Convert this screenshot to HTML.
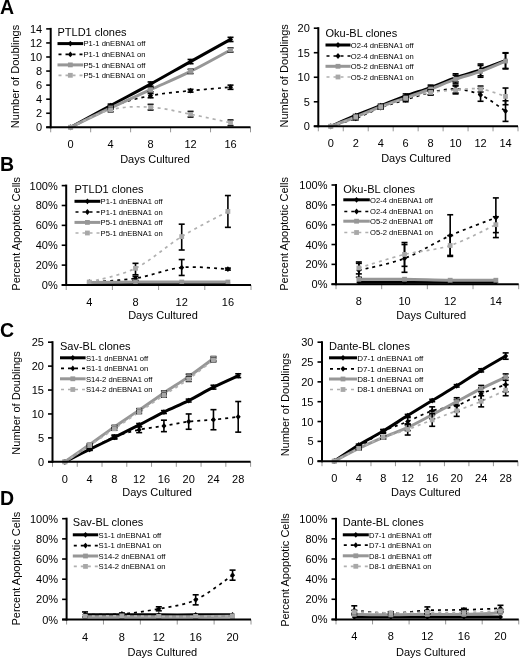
<!DOCTYPE html>
<html><head><meta charset="utf-8"><style>
html,body{margin:0;padding:0;background:#fff;}
svg{display:block;filter:blur(0.3px);}
text{font-family:"Liberation Sans", sans-serif;fill:#000;}
</style></head><body>
<svg width="520" height="658" viewBox="0 0 520 658">
<rect width="520" height="658" fill="#fff"/>
<line x1="50.7" y1="127.3" x2="50.7" y2="132.3" stroke="#8a8a8a" stroke-width="0.9" />
<line x1="90.66" y1="127.3" x2="90.66" y2="132.3" stroke="#8a8a8a" stroke-width="0.9" />
<line x1="130.62" y1="127.3" x2="130.62" y2="132.3" stroke="#8a8a8a" stroke-width="0.9" />
<line x1="170.58" y1="127.3" x2="170.58" y2="132.3" stroke="#8a8a8a" stroke-width="0.9" />
<line x1="210.54" y1="127.3" x2="210.54" y2="132.3" stroke="#8a8a8a" stroke-width="0.9" />
<line x1="250.5" y1="127.3" x2="250.5" y2="132.3" stroke="#8a8a8a" stroke-width="0.9" />
<path d="M70.68 127.3 C77.34 123.67 97.32 112.71 110.64 105.51 C123.96 98.3 137.28 91.39 150.6 84.07 C163.92 76.74 177.24 69.01 190.56 61.57 C203.88 54.13 223.86 43.12 230.52 39.42" fill="none" stroke="#000" stroke-width="3" stroke-linejoin="round"/>
<path d="M70.68 127.3 C77.34 123.9 97.32 112.19 110.64 106.91 C123.96 101.64 137.28 98.36 150.6 95.66 C163.92 92.97 177.24 92.15 190.56 90.74 C203.88 89.34 223.86 87.81 230.52 87.23" fill="none" stroke="#000" stroke-width="1.7" stroke-dasharray="3 4" stroke-linejoin="round"/>
<path d="M70.68 127.3 C77.34 124.08 97.32 114.24 110.64 107.97 C123.96 101.7 137.28 95.78 150.6 89.69 C163.92 83.6 177.24 78.03 190.56 71.41 C203.88 64.79 223.86 53.54 230.52 49.97" fill="none" stroke="#979797" stroke-width="3" stroke-linejoin="round"/>
<path d="M70.68 127.3 C77.34 124.37 97.32 113.08 110.64 109.72 C123.96 106.37 137.28 106.44 150.6 107.19 C163.92 107.94 177.24 111.62 190.56 114.22 C203.88 116.83 223.86 121.37 230.52 122.8" fill="none" stroke="#b0b0b0" stroke-width="1.7" stroke-dasharray="3 4" stroke-linejoin="round"/>
<path d="M70.68 124.42 L73.18 127.3 L70.68 130.18 L68.18 127.3Z" fill="#000"/>
<line x1="110.64" y1="104.1" x2="110.64" y2="106.91" stroke="#000" stroke-width="1.6" />
<line x1="107.64" y1="104.1" x2="113.64" y2="104.1" stroke="#000" stroke-width="1.6" />
<line x1="107.64" y1="106.91" x2="113.64" y2="106.91" stroke="#000" stroke-width="1.6" />
<path d="M110.64 102.63 L113.14 105.51 L110.64 108.38 L108.14 105.51Z" fill="#000"/>
<line x1="150.6" y1="81.96" x2="150.6" y2="86.17" stroke="#000" stroke-width="1.6" />
<line x1="147.6" y1="81.96" x2="153.6" y2="81.96" stroke="#000" stroke-width="1.6" />
<line x1="147.6" y1="86.17" x2="153.6" y2="86.17" stroke="#000" stroke-width="1.6" />
<path d="M150.6 81.19 L153.1 84.07 L150.6 86.94 L148.1 84.07Z" fill="#000"/>
<line x1="190.56" y1="59.46" x2="190.56" y2="63.68" stroke="#000" stroke-width="1.6" />
<line x1="187.56" y1="59.46" x2="193.56" y2="59.46" stroke="#000" stroke-width="1.6" />
<line x1="187.56" y1="63.68" x2="193.56" y2="63.68" stroke="#000" stroke-width="1.6" />
<path d="M190.56 58.69 L193.06 61.57 L190.56 64.44 L188.06 61.57Z" fill="#000"/>
<line x1="230.52" y1="37.32" x2="230.52" y2="41.53" stroke="#000" stroke-width="1.6" />
<line x1="227.52" y1="37.32" x2="233.52" y2="37.32" stroke="#000" stroke-width="1.6" />
<line x1="227.52" y1="41.53" x2="233.52" y2="41.53" stroke="#000" stroke-width="1.6" />
<path d="M230.52 36.55 L233.02 39.42 L230.52 42.3 L228.02 39.42Z" fill="#000"/>
<path d="M70.68 124.42 L73.18 127.3 L70.68 130.18 L68.18 127.3Z" fill="#000"/>
<line x1="110.64" y1="105.51" x2="110.64" y2="108.32" stroke="#000" stroke-width="1.6" />
<line x1="107.64" y1="105.51" x2="113.64" y2="105.51" stroke="#000" stroke-width="1.6" />
<line x1="107.64" y1="108.32" x2="113.64" y2="108.32" stroke="#000" stroke-width="1.6" />
<path d="M110.64 104.04 L113.14 106.91 L110.64 109.79 L108.14 106.91Z" fill="#000"/>
<line x1="150.6" y1="93.56" x2="150.6" y2="97.77" stroke="#000" stroke-width="1.6" />
<line x1="147.6" y1="93.56" x2="153.6" y2="93.56" stroke="#000" stroke-width="1.6" />
<line x1="147.6" y1="97.77" x2="153.6" y2="97.77" stroke="#000" stroke-width="1.6" />
<path d="M150.6 92.79 L153.1 95.66 L150.6 98.54 L148.1 95.66Z" fill="#000"/>
<line x1="190.56" y1="89.34" x2="190.56" y2="92.15" stroke="#000" stroke-width="1.6" />
<line x1="187.56" y1="89.34" x2="193.56" y2="89.34" stroke="#000" stroke-width="1.6" />
<line x1="187.56" y1="92.15" x2="193.56" y2="92.15" stroke="#000" stroke-width="1.6" />
<path d="M190.56 87.87 L193.06 90.74 L190.56 93.62 L188.06 90.74Z" fill="#000"/>
<line x1="230.52" y1="85.12" x2="230.52" y2="89.34" stroke="#000" stroke-width="1.6" />
<line x1="227.52" y1="85.12" x2="233.52" y2="85.12" stroke="#000" stroke-width="1.6" />
<line x1="227.52" y1="89.34" x2="233.52" y2="89.34" stroke="#000" stroke-width="1.6" />
<path d="M230.52 84.35 L233.02 87.23 L230.52 90.1 L228.02 87.23Z" fill="#000"/>
<rect x="68.28" y="124.9" width="4.8" height="4.8" fill="#979797"/>
<line x1="110.64" y1="106.56" x2="110.64" y2="109.37" stroke="#000" stroke-width="1.6" />
<line x1="107.64" y1="106.56" x2="113.64" y2="106.56" stroke="#000" stroke-width="1.6" />
<line x1="107.64" y1="109.37" x2="113.64" y2="109.37" stroke="#000" stroke-width="1.6" />
<rect x="108.24" y="105.57" width="4.8" height="4.8" fill="#979797"/>
<line x1="150.6" y1="87.58" x2="150.6" y2="91.8" stroke="#000" stroke-width="1.6" />
<line x1="147.6" y1="87.58" x2="153.6" y2="87.58" stroke="#000" stroke-width="1.6" />
<line x1="147.6" y1="91.8" x2="153.6" y2="91.8" stroke="#000" stroke-width="1.6" />
<rect x="148.2" y="87.29" width="4.8" height="4.8" fill="#979797"/>
<line x1="190.56" y1="69.3" x2="190.56" y2="73.52" stroke="#000" stroke-width="1.6" />
<line x1="187.56" y1="69.3" x2="193.56" y2="69.3" stroke="#000" stroke-width="1.6" />
<line x1="187.56" y1="73.52" x2="193.56" y2="73.52" stroke="#000" stroke-width="1.6" />
<rect x="188.16" y="69.01" width="4.8" height="4.8" fill="#979797"/>
<line x1="230.52" y1="47.86" x2="230.52" y2="52.08" stroke="#000" stroke-width="1.6" />
<line x1="227.52" y1="47.86" x2="233.52" y2="47.86" stroke="#000" stroke-width="1.6" />
<line x1="227.52" y1="52.08" x2="233.52" y2="52.08" stroke="#000" stroke-width="1.6" />
<rect x="228.12" y="47.57" width="4.8" height="4.8" fill="#979797"/>
<rect x="68.28" y="124.9" width="4.8" height="4.8" fill="#a8a8a8"/>
<line x1="110.64" y1="107.62" x2="110.64" y2="111.83" stroke="#000" stroke-width="1.6" />
<line x1="107.64" y1="107.62" x2="113.64" y2="107.62" stroke="#000" stroke-width="1.6" />
<line x1="107.64" y1="111.83" x2="113.64" y2="111.83" stroke="#000" stroke-width="1.6" />
<rect x="108.24" y="107.32" width="4.8" height="4.8" fill="#a8a8a8"/>
<line x1="150.6" y1="104.38" x2="150.6" y2="110.01" stroke="#000" stroke-width="1.6" />
<line x1="147.6" y1="104.38" x2="153.6" y2="104.38" stroke="#000" stroke-width="1.6" />
<line x1="147.6" y1="110.01" x2="153.6" y2="110.01" stroke="#000" stroke-width="1.6" />
<rect x="148.2" y="104.79" width="4.8" height="4.8" fill="#a8a8a8"/>
<line x1="190.56" y1="111.41" x2="190.56" y2="117.04" stroke="#000" stroke-width="1.6" />
<line x1="187.56" y1="111.41" x2="193.56" y2="111.41" stroke="#000" stroke-width="1.6" />
<line x1="187.56" y1="117.04" x2="193.56" y2="117.04" stroke="#000" stroke-width="1.6" />
<rect x="188.16" y="111.82" width="4.8" height="4.8" fill="#a8a8a8"/>
<line x1="230.52" y1="119.99" x2="230.52" y2="125.61" stroke="#000" stroke-width="1.6" />
<line x1="227.52" y1="119.99" x2="233.52" y2="119.99" stroke="#000" stroke-width="1.6" />
<line x1="227.52" y1="125.61" x2="233.52" y2="125.61" stroke="#000" stroke-width="1.6" />
<rect x="228.12" y="120.4" width="4.8" height="4.8" fill="#a8a8a8"/>
<line x1="50.7" y1="27.88" x2="50.7" y2="128.3" stroke="#000" stroke-width="2" />
<line x1="46.2" y1="127.3" x2="250.5" y2="127.3" stroke="#000" stroke-width="2" />
<line x1="46.2" y1="127.3" x2="50.7" y2="127.3" stroke="#000" stroke-width="1.6" />
<text x="42.2" y="131.3" font-size="11" text-anchor="end" font-weight="normal" >0</text>
<line x1="46.2" y1="113.24" x2="50.7" y2="113.24" stroke="#000" stroke-width="1.6" />
<text x="42.2" y="117.24" font-size="11" text-anchor="end" font-weight="normal" >2</text>
<line x1="46.2" y1="99.18" x2="50.7" y2="99.18" stroke="#000" stroke-width="1.6" />
<text x="42.2" y="103.18" font-size="11" text-anchor="end" font-weight="normal" >4</text>
<line x1="46.2" y1="85.12" x2="50.7" y2="85.12" stroke="#000" stroke-width="1.6" />
<text x="42.2" y="89.12" font-size="11" text-anchor="end" font-weight="normal" >6</text>
<line x1="46.2" y1="71.06" x2="50.7" y2="71.06" stroke="#000" stroke-width="1.6" />
<text x="42.2" y="75.06" font-size="11" text-anchor="end" font-weight="normal" >8</text>
<line x1="46.2" y1="57" x2="50.7" y2="57" stroke="#000" stroke-width="1.6" />
<text x="42.2" y="61" font-size="11" text-anchor="end" font-weight="normal" >10</text>
<line x1="46.2" y1="42.94" x2="50.7" y2="42.94" stroke="#000" stroke-width="1.6" />
<text x="42.2" y="46.94" font-size="11" text-anchor="end" font-weight="normal" >12</text>
<line x1="46.2" y1="28.88" x2="50.7" y2="28.88" stroke="#000" stroke-width="1.6" />
<text x="42.2" y="32.88" font-size="11" text-anchor="end" font-weight="normal" >14</text>
<text x="70.68" y="148.3" font-size="11" text-anchor="middle" font-weight="normal" >0</text>
<text x="110.64" y="148.3" font-size="11" text-anchor="middle" font-weight="normal" >4</text>
<text x="150.6" y="148.3" font-size="11" text-anchor="middle" font-weight="normal" >8</text>
<text x="190.56" y="148.3" font-size="11" text-anchor="middle" font-weight="normal" >12</text>
<text x="230.52" y="148.3" font-size="11" text-anchor="middle" font-weight="normal" >16</text>
<text x="155" y="162.8" font-size="11" text-anchor="middle" font-weight="normal" >Days Cultured</text>
<text x="0" y="0" font-size="11" text-anchor="middle" transform="translate(19.2,76.5) rotate(-90)">Number of Doublings</text>
<text x="57.5" y="35.8" font-size="11" text-anchor="start" font-weight="normal" >PTLD1 clones</text>
<line x1="57.5" y1="43.6" x2="83.2" y2="43.6" stroke="#000" stroke-width="3" />
<path d="M70.35 40.73 L72.85 43.6 L70.35 46.48 L67.85 43.6Z" fill="#000"/>
<text x="83.5" y="46.3" font-size="7.6" text-anchor="start" font-weight="normal" >P1-1 dnEBNA1 off</text>
<line x1="57.5" y1="54.4" x2="83.2" y2="54.4" stroke="#000" stroke-width="1.7" stroke-dasharray="3 4" stroke-dashoffset="-1"/>
<path d="M70.35 51.52 L72.85 54.4 L70.35 57.27 L67.85 54.4Z" fill="#000"/>
<text x="83.5" y="57.1" font-size="7.6" text-anchor="start" font-weight="normal" >P1-1 dnEBNA1 on</text>
<line x1="57.5" y1="64.9" x2="83.2" y2="64.9" stroke="#979797" stroke-width="3" />
<rect x="67.95" y="62.5" width="4.8" height="4.8" fill="#979797"/>
<text x="83.5" y="67.6" font-size="7.6" text-anchor="start" font-weight="normal" >P5-1 dnEBNA1 off</text>
<line x1="57.5" y1="75.3" x2="83.2" y2="75.3" stroke="#b0b0b0" stroke-width="1.7" stroke-dasharray="3 4" stroke-dashoffset="-1"/>
<rect x="67.95" y="72.9" width="4.8" height="4.8" fill="#a8a8a8"/>
<text x="83.5" y="78" font-size="7.6" text-anchor="start" font-weight="normal" >P5-1 dnEBNA1 on</text>
<line x1="318.3" y1="126.3" x2="318.3" y2="131.3" stroke="#8a8a8a" stroke-width="0.9" />
<line x1="343.26" y1="126.3" x2="343.26" y2="131.3" stroke="#8a8a8a" stroke-width="0.9" />
<line x1="368.23" y1="126.3" x2="368.23" y2="131.3" stroke="#8a8a8a" stroke-width="0.9" />
<line x1="393.19" y1="126.3" x2="393.19" y2="131.3" stroke="#8a8a8a" stroke-width="0.9" />
<line x1="418.15" y1="126.3" x2="418.15" y2="131.3" stroke="#8a8a8a" stroke-width="0.9" />
<line x1="443.11" y1="126.3" x2="443.11" y2="131.3" stroke="#8a8a8a" stroke-width="0.9" />
<line x1="468.07" y1="126.3" x2="468.07" y2="131.3" stroke="#8a8a8a" stroke-width="0.9" />
<line x1="493.04" y1="126.3" x2="493.04" y2="131.3" stroke="#8a8a8a" stroke-width="0.9" />
<line x1="518" y1="126.3" x2="518" y2="131.3" stroke="#8a8a8a" stroke-width="0.9" />
<path d="M330.78 126.3 C334.94 124.5 347.42 118.94 355.74 115.51 C364.06 112.08 372.39 108.97 380.71 105.7 C389.03 102.43 397.35 98.91 405.67 95.89 C413.99 92.86 422.31 90.58 430.63 87.55 C438.95 84.53 447.27 80.68 455.59 77.74 C463.91 74.8 472.24 72.75 480.56 69.89 C488.88 67.03 501.36 62.13 505.52 60.57" fill="none" stroke="#000" stroke-width="3" stroke-linejoin="round"/>
<path d="M330.78 126.3 C334.94 124.99 347.42 121.56 355.74 118.45 C364.06 115.35 372.39 110.77 380.71 107.66 C389.03 104.55 397.35 102.35 405.67 99.81 C413.99 97.28 422.31 94.25 430.63 92.46 C438.95 90.66 447.27 88.61 455.59 89.02 C463.91 89.43 472.24 91.23 480.56 94.91 C488.88 98.59 501.36 108.4 505.52 111.09" fill="none" stroke="#000" stroke-width="1.7" stroke-dasharray="3 4" stroke-linejoin="round"/>
<path d="M330.78 126.3 C334.94 124.75 347.42 120.25 355.74 116.98 C364.06 113.71 372.39 109.87 380.71 106.68 C389.03 103.49 397.35 100.79 405.67 97.85 C413.99 94.91 422.31 92.13 430.63 89.02 C438.95 85.92 447.27 82.15 455.59 79.21 C463.91 76.27 472.24 74.39 480.56 71.36 C488.88 68.34 501.36 62.78 505.52 61.06" fill="none" stroke="#979797" stroke-width="3" stroke-linejoin="round"/>
<path d="M330.78 126.3 C334.94 124.75 347.42 120.17 355.74 116.98 C364.06 113.79 372.39 110.28 380.71 107.17 C389.03 104.06 397.35 100.79 405.67 98.34 C413.99 95.89 422.31 93.85 430.63 92.46 C438.95 91.07 447.27 90.58 455.59 90 C463.91 89.43 472.24 87.96 480.56 89.02 C488.88 90.08 501.36 95.15 505.52 96.38" fill="none" stroke="#b0b0b0" stroke-width="1.7" stroke-dasharray="3 4" stroke-linejoin="round"/>
<path d="M330.78 123.42 L333.28 126.3 L330.78 129.18 L328.28 126.3Z" fill="#000"/>
<line x1="355.74" y1="114.53" x2="355.74" y2="116.49" stroke="#000" stroke-width="1.6" />
<line x1="352.74" y1="114.53" x2="358.74" y2="114.53" stroke="#000" stroke-width="1.6" />
<line x1="352.74" y1="116.49" x2="358.74" y2="116.49" stroke="#000" stroke-width="1.6" />
<path d="M355.74 112.63 L358.24 115.51 L355.74 118.38 L353.24 115.51Z" fill="#000"/>
<line x1="380.71" y1="104.23" x2="380.71" y2="107.17" stroke="#000" stroke-width="1.6" />
<line x1="377.71" y1="104.23" x2="383.71" y2="104.23" stroke="#000" stroke-width="1.6" />
<line x1="377.71" y1="107.17" x2="383.71" y2="107.17" stroke="#000" stroke-width="1.6" />
<path d="M380.71 102.82 L383.21 105.7 L380.71 108.57 L378.21 105.7Z" fill="#000"/>
<line x1="405.67" y1="93.93" x2="405.67" y2="97.85" stroke="#000" stroke-width="1.6" />
<line x1="402.67" y1="93.93" x2="408.67" y2="93.93" stroke="#000" stroke-width="1.6" />
<line x1="402.67" y1="97.85" x2="408.67" y2="97.85" stroke="#000" stroke-width="1.6" />
<path d="M405.67 93.01 L408.17 95.89 L405.67 98.76 L403.17 95.89Z" fill="#000"/>
<line x1="430.63" y1="85.1" x2="430.63" y2="90" stroke="#000" stroke-width="1.6" />
<line x1="427.63" y1="85.1" x2="433.63" y2="85.1" stroke="#000" stroke-width="1.6" />
<line x1="427.63" y1="90" x2="433.63" y2="90" stroke="#000" stroke-width="1.6" />
<path d="M430.63 84.68 L433.13 87.55 L430.63 90.43 L428.13 87.55Z" fill="#000"/>
<line x1="455.59" y1="73.82" x2="455.59" y2="81.66" stroke="#000" stroke-width="1.6" />
<line x1="452.59" y1="73.82" x2="458.59" y2="73.82" stroke="#000" stroke-width="1.6" />
<line x1="452.59" y1="81.66" x2="458.59" y2="81.66" stroke="#000" stroke-width="1.6" />
<path d="M455.59 74.87 L458.09 77.74 L455.59 80.62 L453.09 77.74Z" fill="#000"/>
<line x1="480.56" y1="64.01" x2="480.56" y2="75.78" stroke="#000" stroke-width="1.6" />
<line x1="477.56" y1="64.01" x2="483.56" y2="64.01" stroke="#000" stroke-width="1.6" />
<line x1="477.56" y1="75.78" x2="483.56" y2="75.78" stroke="#000" stroke-width="1.6" />
<path d="M480.56 67.02 L483.06 69.89 L480.56 72.77 L478.06 69.89Z" fill="#000"/>
<line x1="505.52" y1="52.72" x2="505.52" y2="68.42" stroke="#000" stroke-width="1.6" />
<line x1="502.52" y1="52.72" x2="508.52" y2="52.72" stroke="#000" stroke-width="1.6" />
<line x1="502.52" y1="68.42" x2="508.52" y2="68.42" stroke="#000" stroke-width="1.6" />
<path d="M505.52 57.7 L508.02 60.57 L505.52 63.45 L503.02 60.57Z" fill="#000"/>
<path d="M330.78 123.42 L333.28 126.3 L330.78 129.18 L328.28 126.3Z" fill="#000"/>
<line x1="355.74" y1="116.98" x2="355.74" y2="119.92" stroke="#000" stroke-width="1.6" />
<line x1="352.74" y1="116.98" x2="358.74" y2="116.98" stroke="#000" stroke-width="1.6" />
<line x1="352.74" y1="119.92" x2="358.74" y2="119.92" stroke="#000" stroke-width="1.6" />
<path d="M355.74 115.58 L358.24 118.45 L355.74 121.33 L353.24 118.45Z" fill="#000"/>
<line x1="380.71" y1="106.19" x2="380.71" y2="109.13" stroke="#000" stroke-width="1.6" />
<line x1="377.71" y1="106.19" x2="383.71" y2="106.19" stroke="#000" stroke-width="1.6" />
<line x1="377.71" y1="109.13" x2="383.71" y2="109.13" stroke="#000" stroke-width="1.6" />
<path d="M380.71 104.79 L383.21 107.66 L380.71 110.54 L378.21 107.66Z" fill="#000"/>
<line x1="405.67" y1="97.85" x2="405.67" y2="101.77" stroke="#000" stroke-width="1.6" />
<line x1="402.67" y1="97.85" x2="408.67" y2="97.85" stroke="#000" stroke-width="1.6" />
<line x1="402.67" y1="101.77" x2="408.67" y2="101.77" stroke="#000" stroke-width="1.6" />
<path d="M405.67 96.94 L408.17 99.81 L405.67 102.69 L403.17 99.81Z" fill="#000"/>
<line x1="430.63" y1="90" x2="430.63" y2="94.91" stroke="#000" stroke-width="1.6" />
<line x1="427.63" y1="90" x2="433.63" y2="90" stroke="#000" stroke-width="1.6" />
<line x1="427.63" y1="94.91" x2="433.63" y2="94.91" stroke="#000" stroke-width="1.6" />
<path d="M430.63 89.58 L433.13 92.46 L430.63 95.33 L428.13 92.46Z" fill="#000"/>
<line x1="455.59" y1="85.1" x2="455.59" y2="92.95" stroke="#000" stroke-width="1.6" />
<line x1="452.59" y1="85.1" x2="458.59" y2="85.1" stroke="#000" stroke-width="1.6" />
<line x1="452.59" y1="92.95" x2="458.59" y2="92.95" stroke="#000" stroke-width="1.6" />
<path d="M455.59 86.15 L458.09 89.02 L455.59 91.9 L453.09 89.02Z" fill="#000"/>
<line x1="480.56" y1="88.53" x2="480.56" y2="101.28" stroke="#000" stroke-width="1.6" />
<line x1="477.56" y1="88.53" x2="483.56" y2="88.53" stroke="#000" stroke-width="1.6" />
<line x1="477.56" y1="101.28" x2="483.56" y2="101.28" stroke="#000" stroke-width="1.6" />
<path d="M480.56 92.03 L483.06 94.91 L480.56 97.78 L478.06 94.91Z" fill="#000"/>
<line x1="505.52" y1="100.79" x2="505.52" y2="121.39" stroke="#000" stroke-width="1.6" />
<line x1="502.52" y1="100.79" x2="508.52" y2="100.79" stroke="#000" stroke-width="1.6" />
<line x1="502.52" y1="121.39" x2="508.52" y2="121.39" stroke="#000" stroke-width="1.6" />
<path d="M505.52 108.22 L508.02 111.09 L505.52 113.97 L503.02 111.09Z" fill="#000"/>
<rect x="328.38" y="123.9" width="4.8" height="4.8" fill="#979797"/>
<line x1="355.74" y1="116" x2="355.74" y2="117.96" stroke="#000" stroke-width="1.6" />
<line x1="352.74" y1="116" x2="358.74" y2="116" stroke="#000" stroke-width="1.6" />
<line x1="352.74" y1="117.96" x2="358.74" y2="117.96" stroke="#000" stroke-width="1.6" />
<rect x="353.34" y="114.58" width="4.8" height="4.8" fill="#979797"/>
<line x1="380.71" y1="105.21" x2="380.71" y2="108.15" stroke="#000" stroke-width="1.6" />
<line x1="377.71" y1="105.21" x2="383.71" y2="105.21" stroke="#000" stroke-width="1.6" />
<line x1="377.71" y1="108.15" x2="383.71" y2="108.15" stroke="#000" stroke-width="1.6" />
<rect x="378.31" y="104.28" width="4.8" height="4.8" fill="#979797"/>
<line x1="405.67" y1="95.89" x2="405.67" y2="99.81" stroke="#000" stroke-width="1.6" />
<line x1="402.67" y1="95.89" x2="408.67" y2="95.89" stroke="#000" stroke-width="1.6" />
<line x1="402.67" y1="99.81" x2="408.67" y2="99.81" stroke="#000" stroke-width="1.6" />
<rect x="403.27" y="95.45" width="4.8" height="4.8" fill="#979797"/>
<line x1="430.63" y1="86.57" x2="430.63" y2="91.47" stroke="#000" stroke-width="1.6" />
<line x1="427.63" y1="86.57" x2="433.63" y2="86.57" stroke="#000" stroke-width="1.6" />
<line x1="427.63" y1="91.47" x2="433.63" y2="91.47" stroke="#000" stroke-width="1.6" />
<rect x="428.23" y="86.62" width="4.8" height="4.8" fill="#979797"/>
<line x1="455.59" y1="75.29" x2="455.59" y2="83.14" stroke="#000" stroke-width="1.6" />
<line x1="452.59" y1="75.29" x2="458.59" y2="75.29" stroke="#000" stroke-width="1.6" />
<line x1="452.59" y1="83.14" x2="458.59" y2="83.14" stroke="#000" stroke-width="1.6" />
<rect x="453.19" y="76.81" width="4.8" height="4.8" fill="#979797"/>
<line x1="480.56" y1="65.48" x2="480.56" y2="77.25" stroke="#000" stroke-width="1.6" />
<line x1="477.56" y1="65.48" x2="483.56" y2="65.48" stroke="#000" stroke-width="1.6" />
<line x1="477.56" y1="77.25" x2="483.56" y2="77.25" stroke="#000" stroke-width="1.6" />
<rect x="478.16" y="68.96" width="4.8" height="4.8" fill="#979797"/>
<line x1="505.52" y1="53.22" x2="505.52" y2="68.91" stroke="#000" stroke-width="1.6" />
<line x1="502.52" y1="53.22" x2="508.52" y2="53.22" stroke="#000" stroke-width="1.6" />
<line x1="502.52" y1="68.91" x2="508.52" y2="68.91" stroke="#000" stroke-width="1.6" />
<rect x="503.12" y="58.66" width="4.8" height="4.8" fill="#979797"/>
<rect x="328.38" y="123.9" width="4.8" height="4.8" fill="#a8a8a8"/>
<line x1="355.74" y1="116" x2="355.74" y2="117.96" stroke="#000" stroke-width="1.6" />
<line x1="352.74" y1="116" x2="358.74" y2="116" stroke="#000" stroke-width="1.6" />
<line x1="352.74" y1="117.96" x2="358.74" y2="117.96" stroke="#000" stroke-width="1.6" />
<rect x="353.34" y="114.58" width="4.8" height="4.8" fill="#a8a8a8"/>
<line x1="380.71" y1="105.7" x2="380.71" y2="108.64" stroke="#000" stroke-width="1.6" />
<line x1="377.71" y1="105.7" x2="383.71" y2="105.7" stroke="#000" stroke-width="1.6" />
<line x1="377.71" y1="108.64" x2="383.71" y2="108.64" stroke="#000" stroke-width="1.6" />
<rect x="378.31" y="104.77" width="4.8" height="4.8" fill="#a8a8a8"/>
<line x1="405.67" y1="96.38" x2="405.67" y2="100.3" stroke="#000" stroke-width="1.6" />
<line x1="402.67" y1="96.38" x2="408.67" y2="96.38" stroke="#000" stroke-width="1.6" />
<line x1="402.67" y1="100.3" x2="408.67" y2="100.3" stroke="#000" stroke-width="1.6" />
<rect x="403.27" y="95.94" width="4.8" height="4.8" fill="#a8a8a8"/>
<line x1="430.63" y1="90" x2="430.63" y2="94.91" stroke="#000" stroke-width="1.6" />
<line x1="427.63" y1="90" x2="433.63" y2="90" stroke="#000" stroke-width="1.6" />
<line x1="427.63" y1="94.91" x2="433.63" y2="94.91" stroke="#000" stroke-width="1.6" />
<rect x="428.23" y="90.06" width="4.8" height="4.8" fill="#a8a8a8"/>
<line x1="455.59" y1="86.08" x2="455.59" y2="93.93" stroke="#000" stroke-width="1.6" />
<line x1="452.59" y1="86.08" x2="458.59" y2="86.08" stroke="#000" stroke-width="1.6" />
<line x1="452.59" y1="93.93" x2="458.59" y2="93.93" stroke="#000" stroke-width="1.6" />
<rect x="453.19" y="87.6" width="4.8" height="4.8" fill="#a8a8a8"/>
<line x1="480.56" y1="86.08" x2="480.56" y2="91.97" stroke="#000" stroke-width="1.6" />
<line x1="477.56" y1="86.08" x2="483.56" y2="86.08" stroke="#000" stroke-width="1.6" />
<line x1="477.56" y1="91.97" x2="483.56" y2="91.97" stroke="#000" stroke-width="1.6" />
<rect x="478.16" y="86.62" width="4.8" height="4.8" fill="#a8a8a8"/>
<line x1="505.52" y1="88.04" x2="505.52" y2="104.72" stroke="#000" stroke-width="1.6" />
<line x1="502.52" y1="88.04" x2="508.52" y2="88.04" stroke="#000" stroke-width="1.6" />
<line x1="502.52" y1="104.72" x2="508.52" y2="104.72" stroke="#000" stroke-width="1.6" />
<rect x="503.12" y="93.98" width="4.8" height="4.8" fill="#a8a8a8"/>
<line x1="318.3" y1="27.2" x2="318.3" y2="127.3" stroke="#000" stroke-width="2" />
<line x1="313.8" y1="126.3" x2="518" y2="126.3" stroke="#000" stroke-width="2" />
<line x1="313.8" y1="126.3" x2="318.3" y2="126.3" stroke="#000" stroke-width="1.6" />
<text x="309.8" y="130.3" font-size="11" text-anchor="end" font-weight="normal" >0</text>
<line x1="313.8" y1="101.77" x2="318.3" y2="101.77" stroke="#000" stroke-width="1.6" />
<text x="309.8" y="105.77" font-size="11" text-anchor="end" font-weight="normal" >5</text>
<line x1="313.8" y1="77.25" x2="318.3" y2="77.25" stroke="#000" stroke-width="1.6" />
<text x="309.8" y="81.25" font-size="11" text-anchor="end" font-weight="normal" >10</text>
<line x1="313.8" y1="52.72" x2="318.3" y2="52.72" stroke="#000" stroke-width="1.6" />
<text x="309.8" y="56.72" font-size="11" text-anchor="end" font-weight="normal" >15</text>
<line x1="313.8" y1="28.2" x2="318.3" y2="28.2" stroke="#000" stroke-width="1.6" />
<text x="309.8" y="32.2" font-size="11" text-anchor="end" font-weight="normal" >20</text>
<text x="330.78" y="147.3" font-size="11" text-anchor="middle" font-weight="normal" >0</text>
<text x="355.74" y="147.3" font-size="11" text-anchor="middle" font-weight="normal" >2</text>
<text x="380.71" y="147.3" font-size="11" text-anchor="middle" font-weight="normal" >4</text>
<text x="405.67" y="147.3" font-size="11" text-anchor="middle" font-weight="normal" >6</text>
<text x="430.63" y="147.3" font-size="11" text-anchor="middle" font-weight="normal" >8</text>
<text x="455.59" y="147.3" font-size="11" text-anchor="middle" font-weight="normal" >10</text>
<text x="480.56" y="147.3" font-size="11" text-anchor="middle" font-weight="normal" >12</text>
<text x="505.52" y="147.3" font-size="11" text-anchor="middle" font-weight="normal" >14</text>
<text x="416" y="162.2" font-size="11" text-anchor="middle" font-weight="normal" >Days Cultured</text>
<text x="0" y="0" font-size="11" text-anchor="middle" transform="translate(288.2,75.8) rotate(-90)">Number of Doublings</text>
<text x="325.5" y="37" font-size="11" text-anchor="start" font-weight="normal" >Oku-BL clones</text>
<line x1="325.5" y1="45" x2="350.5" y2="45" stroke="#000" stroke-width="3" />
<path d="M338 42.12 L340.5 45 L338 47.88 L335.5 45Z" fill="#000"/>
<text x="350.8" y="47.7" font-size="7.6" text-anchor="start" font-weight="normal" >O2-4 dnEBNA1 off</text>
<line x1="325.5" y1="56" x2="350.5" y2="56" stroke="#000" stroke-width="1.7" stroke-dasharray="3 4" stroke-dashoffset="-1"/>
<path d="M338 53.12 L340.5 56 L338 58.88 L335.5 56Z" fill="#000"/>
<text x="350.8" y="58.7" font-size="7.6" text-anchor="start" font-weight="normal" >O2-4 dnEBNA1 on</text>
<line x1="325.5" y1="66.3" x2="350.5" y2="66.3" stroke="#979797" stroke-width="3" />
<rect x="335.6" y="63.9" width="4.8" height="4.8" fill="#979797"/>
<text x="350.8" y="69" font-size="7.6" text-anchor="start" font-weight="normal" >O5-2 dnEBNA1 off</text>
<line x1="325.5" y1="77" x2="350.5" y2="77" stroke="#b0b0b0" stroke-width="1.7" stroke-dasharray="3 4" stroke-dashoffset="-1"/>
<rect x="335.6" y="74.6" width="4.8" height="4.8" fill="#a8a8a8"/>
<text x="350.8" y="79.7" font-size="7.6" text-anchor="start" font-weight="normal" >O5-2 dnEBNA1 on</text>
<line x1="66.2" y1="285" x2="66.2" y2="290" stroke="#8a8a8a" stroke-width="0.9" />
<line x1="112.4" y1="285" x2="112.4" y2="290" stroke="#8a8a8a" stroke-width="0.9" />
<line x1="158.6" y1="285" x2="158.6" y2="290" stroke="#8a8a8a" stroke-width="0.9" />
<line x1="204.8" y1="285" x2="204.8" y2="290" stroke="#8a8a8a" stroke-width="0.9" />
<line x1="251" y1="285" x2="251" y2="290" stroke="#8a8a8a" stroke-width="0.9" />
<path d="M89.3 283.01 C97 283.01 120.1 283.01 135.5 283.01 C150.9 283.01 166.3 283.01 181.7 283.01 C197.1 283.01 220.2 283.01 227.9 283.01" fill="none" stroke="#000" stroke-width="3" stroke-linejoin="round"/>
<path d="M89.3 282.02 C97 281.41 120.1 280.76 135.5 278.34 C150.9 275.92 166.3 269.05 181.7 267.51 C197.1 265.96 220.2 268.83 227.9 269.1" fill="none" stroke="#000" stroke-width="1.7" stroke-dasharray="3 4" stroke-linejoin="round"/>
<path d="M89.3 282.51 C97 282.43 120.1 282.1 135.5 282.02 C150.9 281.94 166.3 282.02 181.7 282.02 C197.1 282.02 220.2 282.02 227.9 282.02" fill="none" stroke="#979797" stroke-width="3" stroke-linejoin="round"/>
<path d="M89.3 282.02 C97 279.73 120.1 275.87 135.5 268.3 C150.9 260.73 166.3 246.07 181.7 236.59 C197.1 227.12 220.2 215.64 227.9 211.44" fill="none" stroke="#b0b0b0" stroke-width="1.7" stroke-dasharray="3 4" stroke-linejoin="round"/>
<path d="M89.3 280.14 L91.8 283.01 L89.3 285.89 L86.8 283.01Z" fill="#000"/>
<path d="M135.5 280.14 L138 283.01 L135.5 285.89 L133 283.01Z" fill="#000"/>
<path d="M181.7 280.14 L184.2 283.01 L181.7 285.89 L179.2 283.01Z" fill="#000"/>
<path d="M227.9 280.14 L230.4 283.01 L227.9 285.89 L225.4 283.01Z" fill="#000"/>
<path d="M89.3 279.14 L91.8 282.02 L89.3 284.89 L86.8 282.02Z" fill="#000"/>
<line x1="135.5" y1="276.35" x2="135.5" y2="280.33" stroke="#000" stroke-width="1.6" />
<line x1="132.5" y1="276.35" x2="138.5" y2="276.35" stroke="#000" stroke-width="1.6" />
<line x1="132.5" y1="280.33" x2="138.5" y2="280.33" stroke="#000" stroke-width="1.6" />
<path d="M135.5 275.47 L138 278.34 L135.5 281.22 L133 278.34Z" fill="#000"/>
<line x1="181.7" y1="259.55" x2="181.7" y2="275.46" stroke="#000" stroke-width="1.6" />
<line x1="178.7" y1="259.55" x2="184.7" y2="259.55" stroke="#000" stroke-width="1.6" />
<line x1="178.7" y1="275.46" x2="184.7" y2="275.46" stroke="#000" stroke-width="1.6" />
<path d="M181.7 264.63 L184.2 267.51 L181.7 270.38 L179.2 267.51Z" fill="#000"/>
<line x1="227.9" y1="268.1" x2="227.9" y2="270.09" stroke="#000" stroke-width="1.6" />
<line x1="224.9" y1="268.1" x2="230.9" y2="268.1" stroke="#000" stroke-width="1.6" />
<line x1="224.9" y1="270.09" x2="230.9" y2="270.09" stroke="#000" stroke-width="1.6" />
<path d="M227.9 266.22 L230.4 269.1 L227.9 271.97 L225.4 269.1Z" fill="#000"/>
<rect x="86.9" y="280.12" width="4.8" height="4.8" fill="#979797"/>
<rect x="133.1" y="279.62" width="4.8" height="4.8" fill="#979797"/>
<rect x="179.3" y="279.62" width="4.8" height="4.8" fill="#979797"/>
<rect x="225.5" y="279.62" width="4.8" height="4.8" fill="#979797"/>
<rect x="86.9" y="279.62" width="4.8" height="4.8" fill="#a8a8a8"/>
<line x1="135.5" y1="263.33" x2="135.5" y2="274.76" stroke="#000" stroke-width="1.6" />
<line x1="132.5" y1="263.33" x2="138.5" y2="263.33" stroke="#000" stroke-width="1.6" />
<line x1="132.5" y1="274.76" x2="138.5" y2="274.76" stroke="#000" stroke-width="1.6" />
<rect x="133.1" y="265.9" width="4.8" height="4.8" fill="#a8a8a8"/>
<line x1="181.7" y1="224.17" x2="181.7" y2="250.01" stroke="#000" stroke-width="1.6" />
<line x1="178.7" y1="224.17" x2="184.7" y2="224.17" stroke="#000" stroke-width="1.6" />
<line x1="178.7" y1="250.01" x2="184.7" y2="250.01" stroke="#000" stroke-width="1.6" />
<rect x="179.3" y="234.19" width="4.8" height="4.8" fill="#a8a8a8"/>
<line x1="227.9" y1="195.54" x2="227.9" y2="227.35" stroke="#000" stroke-width="1.6" />
<line x1="224.9" y1="195.54" x2="230.9" y2="195.54" stroke="#000" stroke-width="1.6" />
<line x1="224.9" y1="227.35" x2="230.9" y2="227.35" stroke="#000" stroke-width="1.6" />
<rect x="225.5" y="209.04" width="4.8" height="4.8" fill="#a8a8a8"/>
<line x1="66.2" y1="184.6" x2="66.2" y2="286" stroke="#000" stroke-width="2" />
<line x1="61.7" y1="285" x2="251" y2="285" stroke="#000" stroke-width="2" />
<line x1="61.7" y1="285" x2="66.2" y2="285" stroke="#000" stroke-width="1.6" />
<text x="57.7" y="289" font-size="11" text-anchor="end" font-weight="normal" >0%</text>
<line x1="61.7" y1="265.12" x2="66.2" y2="265.12" stroke="#000" stroke-width="1.6" />
<text x="57.7" y="269.12" font-size="11" text-anchor="end" font-weight="normal" >20%</text>
<line x1="61.7" y1="245.24" x2="66.2" y2="245.24" stroke="#000" stroke-width="1.6" />
<text x="57.7" y="249.24" font-size="11" text-anchor="end" font-weight="normal" >40%</text>
<line x1="61.7" y1="225.36" x2="66.2" y2="225.36" stroke="#000" stroke-width="1.6" />
<text x="57.7" y="229.36" font-size="11" text-anchor="end" font-weight="normal" >60%</text>
<line x1="61.7" y1="205.48" x2="66.2" y2="205.48" stroke="#000" stroke-width="1.6" />
<text x="57.7" y="209.48" font-size="11" text-anchor="end" font-weight="normal" >80%</text>
<line x1="61.7" y1="185.6" x2="66.2" y2="185.6" stroke="#000" stroke-width="1.6" />
<text x="57.7" y="189.6" font-size="11" text-anchor="end" font-weight="normal" >100%</text>
<text x="89.3" y="306" font-size="11" text-anchor="middle" font-weight="normal" >4</text>
<text x="135.5" y="306" font-size="11" text-anchor="middle" font-weight="normal" >8</text>
<text x="181.7" y="306" font-size="11" text-anchor="middle" font-weight="normal" >12</text>
<text x="227.9" y="306" font-size="11" text-anchor="middle" font-weight="normal" >16</text>
<text x="163" y="318.8" font-size="11" text-anchor="middle" font-weight="normal" >Days Cultured</text>
<text x="0" y="0" font-size="11" text-anchor="middle" transform="translate(19.6,233.8) rotate(-90)">Percent Apoptotic Cells</text>
<text x="74.5" y="192.5" font-size="11" text-anchor="start" font-weight="normal" >PTLD1 clones</text>
<line x1="74.5" y1="201.3" x2="100.3" y2="201.3" stroke="#000" stroke-width="3" />
<path d="M87.4 198.43 L89.9 201.3 L87.4 204.18 L84.9 201.3Z" fill="#000"/>
<text x="100.6" y="204" font-size="7.6" text-anchor="start" font-weight="normal" >P1-1 dnEBNA1 off</text>
<line x1="74.5" y1="212" x2="100.3" y2="212" stroke="#000" stroke-width="1.7" stroke-dasharray="3 4" stroke-dashoffset="-1"/>
<path d="M87.4 209.12 L89.9 212 L87.4 214.88 L84.9 212Z" fill="#000"/>
<text x="100.6" y="214.7" font-size="7.6" text-anchor="start" font-weight="normal" >P1-1 dnEBNA1 on</text>
<line x1="74.5" y1="222.4" x2="100.3" y2="222.4" stroke="#979797" stroke-width="3" />
<rect x="85" y="220" width="4.8" height="4.8" fill="#979797"/>
<text x="100.6" y="225.1" font-size="7.6" text-anchor="start" font-weight="normal" >P5-1 dnEBNA1 off</text>
<line x1="74.5" y1="233" x2="100.3" y2="233" stroke="#b0b0b0" stroke-width="1.7" stroke-dasharray="3 4" stroke-dashoffset="-1"/>
<rect x="85" y="230.6" width="4.8" height="4.8" fill="#a8a8a8"/>
<text x="100.6" y="235.7" font-size="7.6" text-anchor="start" font-weight="normal" >P5-1 dnEBNA1 on</text>
<line x1="336" y1="284.2" x2="336" y2="289.2" stroke="#8a8a8a" stroke-width="0.9" />
<line x1="381.68" y1="284.2" x2="381.68" y2="289.2" stroke="#8a8a8a" stroke-width="0.9" />
<line x1="427.35" y1="284.2" x2="427.35" y2="289.2" stroke="#8a8a8a" stroke-width="0.9" />
<line x1="473.03" y1="284.2" x2="473.03" y2="289.2" stroke="#8a8a8a" stroke-width="0.9" />
<line x1="518.7" y1="284.2" x2="518.7" y2="289.2" stroke="#8a8a8a" stroke-width="0.9" />
<path d="M358.84 282.22 C366.45 282.22 389.29 282.22 404.51 282.22 C419.74 282.22 434.96 282.22 450.19 282.22 C465.41 282.22 488.25 282.22 495.86 282.22" fill="none" stroke="#000" stroke-width="3" stroke-linejoin="round"/>
<path d="M358.84 270.31 C366.45 268.33 389.29 264.19 404.51 258.41 C419.74 252.62 434.96 242.37 450.19 235.59 C465.41 228.81 488.25 220.71 495.86 217.74" fill="none" stroke="#000" stroke-width="1.7" stroke-dasharray="3 4" stroke-linejoin="round"/>
<path d="M358.84 279.24 C366.45 279.24 389.29 279.07 404.51 279.24 C419.74 279.41 434.96 280.07 450.19 280.23 C465.41 280.4 488.25 280.23 495.86 280.23" fill="none" stroke="#979797" stroke-width="3" stroke-linejoin="round"/>
<path d="M358.84 267.93 C366.45 265.68 389.29 258.18 404.51 254.44 C419.74 250.7 434.96 250.47 450.19 245.51 C465.41 240.55 488.25 228.15 495.86 224.68" fill="none" stroke="#b0b0b0" stroke-width="1.7" stroke-dasharray="3 4" stroke-linejoin="round"/>
<path d="M358.84 279.34 L361.34 282.22 L358.84 285.09 L356.34 282.22Z" fill="#000"/>
<path d="M404.51 279.34 L407.01 282.22 L404.51 285.09 L402.01 282.22Z" fill="#000"/>
<path d="M450.19 279.34 L452.69 282.22 L450.19 285.09 L447.69 282.22Z" fill="#000"/>
<path d="M495.86 279.34 L498.36 282.22 L495.86 285.09 L493.36 282.22Z" fill="#000"/>
<line x1="358.84" y1="263.37" x2="358.84" y2="277.26" stroke="#000" stroke-width="1.6" />
<line x1="355.84" y1="263.37" x2="361.84" y2="263.37" stroke="#000" stroke-width="1.6" />
<line x1="355.84" y1="277.26" x2="361.84" y2="277.26" stroke="#000" stroke-width="1.6" />
<path d="M358.84 267.44 L361.34 270.31 L358.84 273.19 L356.34 270.31Z" fill="#000"/>
<line x1="404.51" y1="244.52" x2="404.51" y2="272.3" stroke="#000" stroke-width="1.6" />
<line x1="401.51" y1="244.52" x2="407.51" y2="244.52" stroke="#000" stroke-width="1.6" />
<line x1="401.51" y1="272.3" x2="407.51" y2="272.3" stroke="#000" stroke-width="1.6" />
<path d="M404.51 255.53 L407.01 258.41 L404.51 261.28 L402.01 258.41Z" fill="#000"/>
<line x1="450.19" y1="214.76" x2="450.19" y2="256.42" stroke="#000" stroke-width="1.6" />
<line x1="447.19" y1="214.76" x2="453.19" y2="214.76" stroke="#000" stroke-width="1.6" />
<line x1="447.19" y1="256.42" x2="453.19" y2="256.42" stroke="#000" stroke-width="1.6" />
<path d="M450.19 232.72 L452.69 235.59 L450.19 238.47 L447.69 235.59Z" fill="#000"/>
<line x1="495.86" y1="197.9" x2="495.86" y2="237.58" stroke="#000" stroke-width="1.6" />
<line x1="492.86" y1="197.9" x2="498.86" y2="197.9" stroke="#000" stroke-width="1.6" />
<line x1="492.86" y1="237.58" x2="498.86" y2="237.58" stroke="#000" stroke-width="1.6" />
<path d="M495.86 214.86 L498.36 217.74 L495.86 220.61 L493.36 217.74Z" fill="#000"/>
<rect x="356.44" y="276.84" width="4.8" height="4.8" fill="#979797"/>
<rect x="402.11" y="276.84" width="4.8" height="4.8" fill="#979797"/>
<rect x="447.79" y="277.83" width="4.8" height="4.8" fill="#979797"/>
<rect x="493.46" y="277.83" width="4.8" height="4.8" fill="#979797"/>
<line x1="358.84" y1="261.98" x2="358.84" y2="273.88" stroke="#000" stroke-width="1.6" />
<line x1="355.84" y1="261.98" x2="361.84" y2="261.98" stroke="#000" stroke-width="1.6" />
<line x1="355.84" y1="273.88" x2="361.84" y2="273.88" stroke="#000" stroke-width="1.6" />
<rect x="356.44" y="265.53" width="4.8" height="4.8" fill="#a8a8a8"/>
<line x1="404.51" y1="242.54" x2="404.51" y2="266.34" stroke="#000" stroke-width="1.6" />
<line x1="401.51" y1="242.54" x2="407.51" y2="242.54" stroke="#000" stroke-width="1.6" />
<line x1="401.51" y1="266.34" x2="407.51" y2="266.34" stroke="#000" stroke-width="1.6" />
<rect x="402.11" y="252.04" width="4.8" height="4.8" fill="#a8a8a8"/>
<line x1="450.19" y1="235.59" x2="450.19" y2="255.43" stroke="#000" stroke-width="1.6" />
<line x1="447.19" y1="235.59" x2="453.19" y2="235.59" stroke="#000" stroke-width="1.6" />
<line x1="447.19" y1="255.43" x2="453.19" y2="255.43" stroke="#000" stroke-width="1.6" />
<rect x="447.79" y="243.11" width="4.8" height="4.8" fill="#a8a8a8"/>
<line x1="495.86" y1="216.74" x2="495.86" y2="232.62" stroke="#000" stroke-width="1.6" />
<line x1="492.86" y1="216.74" x2="498.86" y2="216.74" stroke="#000" stroke-width="1.6" />
<line x1="492.86" y1="232.62" x2="498.86" y2="232.62" stroke="#000" stroke-width="1.6" />
<rect x="493.46" y="222.28" width="4.8" height="4.8" fill="#a8a8a8"/>
<line x1="336" y1="184" x2="336" y2="285.2" stroke="#000" stroke-width="2" />
<line x1="331.5" y1="284.2" x2="518.7" y2="284.2" stroke="#000" stroke-width="2" />
<line x1="331.5" y1="284.2" x2="336" y2="284.2" stroke="#000" stroke-width="1.6" />
<text x="327.5" y="288.2" font-size="11" text-anchor="end" font-weight="normal" >0%</text>
<line x1="331.5" y1="264.36" x2="336" y2="264.36" stroke="#000" stroke-width="1.6" />
<text x="327.5" y="268.36" font-size="11" text-anchor="end" font-weight="normal" >20%</text>
<line x1="331.5" y1="244.52" x2="336" y2="244.52" stroke="#000" stroke-width="1.6" />
<text x="327.5" y="248.52" font-size="11" text-anchor="end" font-weight="normal" >40%</text>
<line x1="331.5" y1="224.68" x2="336" y2="224.68" stroke="#000" stroke-width="1.6" />
<text x="327.5" y="228.68" font-size="11" text-anchor="end" font-weight="normal" >60%</text>
<line x1="331.5" y1="204.84" x2="336" y2="204.84" stroke="#000" stroke-width="1.6" />
<text x="327.5" y="208.84" font-size="11" text-anchor="end" font-weight="normal" >80%</text>
<line x1="331.5" y1="185" x2="336" y2="185" stroke="#000" stroke-width="1.6" />
<text x="327.5" y="189" font-size="11" text-anchor="end" font-weight="normal" >100%</text>
<text x="358.84" y="305.2" font-size="11" text-anchor="middle" font-weight="normal" >8</text>
<text x="404.51" y="305.2" font-size="11" text-anchor="middle" font-weight="normal" >10</text>
<text x="450.19" y="305.2" font-size="11" text-anchor="middle" font-weight="normal" >12</text>
<text x="495.86" y="305.2" font-size="11" text-anchor="middle" font-weight="normal" >14</text>
<text x="431.2" y="318.8" font-size="11" text-anchor="middle" font-weight="normal" >Days Cultured</text>
<text x="0" y="0" font-size="11" text-anchor="middle" transform="translate(288,233.9) rotate(-90)">Percent Apoptotic Cells</text>
<text x="343.3" y="192.5" font-size="11" text-anchor="start" font-weight="normal" >Oku-BL clones</text>
<line x1="343.3" y1="199.8" x2="369.8" y2="199.8" stroke="#000" stroke-width="3" />
<path d="M356.55 196.93 L359.05 199.8 L356.55 202.68 L354.05 199.8Z" fill="#000"/>
<text x="370.1" y="202.5" font-size="7.6" text-anchor="start" font-weight="normal" >O2-4 dnEBNA1 off</text>
<line x1="343.3" y1="211.5" x2="369.8" y2="211.5" stroke="#000" stroke-width="1.7" stroke-dasharray="3 4" stroke-dashoffset="-1"/>
<path d="M356.55 208.62 L359.05 211.5 L356.55 214.38 L354.05 211.5Z" fill="#000"/>
<text x="370.1" y="214.2" font-size="7.6" text-anchor="start" font-weight="normal" >O2-4 dnEBNA1 on</text>
<line x1="343.3" y1="221.2" x2="369.8" y2="221.2" stroke="#979797" stroke-width="3" />
<rect x="354.15" y="218.8" width="4.8" height="4.8" fill="#979797"/>
<text x="370.1" y="223.9" font-size="7.6" text-anchor="start" font-weight="normal" >O5-2 dnEBNA1 off</text>
<line x1="343.3" y1="232.5" x2="369.8" y2="232.5" stroke="#b0b0b0" stroke-width="1.7" stroke-dasharray="3 4" stroke-dashoffset="-1"/>
<rect x="354.15" y="230.1" width="4.8" height="4.8" fill="#a8a8a8"/>
<text x="370.1" y="235.2" font-size="7.6" text-anchor="start" font-weight="normal" >O5-2 dnEBNA1 on</text>
<line x1="52.5" y1="461.8" x2="52.5" y2="466.8" stroke="#8a8a8a" stroke-width="0.9" />
<line x1="77.26" y1="461.8" x2="77.26" y2="466.8" stroke="#8a8a8a" stroke-width="0.9" />
<line x1="102.03" y1="461.8" x2="102.03" y2="466.8" stroke="#8a8a8a" stroke-width="0.9" />
<line x1="126.79" y1="461.8" x2="126.79" y2="466.8" stroke="#8a8a8a" stroke-width="0.9" />
<line x1="151.55" y1="461.8" x2="151.55" y2="466.8" stroke="#8a8a8a" stroke-width="0.9" />
<line x1="176.31" y1="461.8" x2="176.31" y2="466.8" stroke="#8a8a8a" stroke-width="0.9" />
<line x1="201.07" y1="461.8" x2="201.07" y2="466.8" stroke="#8a8a8a" stroke-width="0.9" />
<line x1="225.84" y1="461.8" x2="225.84" y2="466.8" stroke="#8a8a8a" stroke-width="0.9" />
<line x1="250.6" y1="461.8" x2="250.6" y2="466.8" stroke="#8a8a8a" stroke-width="0.9" />
<path d="M64.88 461.8 C69.01 459.73 81.39 453.43 89.64 449.36 C97.9 445.3 106.15 441.47 114.41 437.4 C122.66 433.34 130.91 429.19 139.17 424.96 C147.42 420.74 155.68 416.11 163.93 412.05 C172.19 407.98 180.44 404.71 188.69 400.56 C196.95 396.42 205.2 391.32 213.46 387.17 C221.71 383.02 234.09 377.6 238.22 375.69" fill="none" stroke="#000" stroke-width="3" stroke-linejoin="round"/>
<path d="M64.88 461.8 C69.01 459.73 81.39 453.51 89.64 449.36 C97.9 445.22 106.15 440.19 114.41 436.92 C122.66 433.65 130.91 431.58 139.17 429.75 C147.42 427.91 155.68 427.28 163.93 425.92 C172.19 424.56 180.44 422.65 188.69 421.61 C196.95 420.58 205.2 420.5 213.46 419.7 C221.71 418.9 234.09 417.31 238.22 416.83" fill="none" stroke="#000" stroke-width="1.7" stroke-dasharray="3 4" stroke-linejoin="round"/>
<path d="M64.88 461.8 C69.01 458.93 81.39 450.4 89.64 444.58 C97.9 438.76 106.15 432.62 114.41 426.88 C122.66 421.14 130.91 415.79 139.17 410.13 C147.42 404.47 155.68 398.49 163.93 392.91 C172.19 387.33 180.44 382.39 188.69 376.64 C196.95 370.9 209.33 361.5 213.46 358.47" fill="none" stroke="#979797" stroke-width="3" stroke-linejoin="round"/>
<path d="M64.88 461.8 C69.01 459.09 81.39 451.04 89.64 445.53 C97.9 440.03 106.15 434.37 114.41 428.79 C122.66 423.21 130.91 417.63 139.17 412.05 C147.42 406.47 155.68 400.8 163.93 395.3 C172.19 389.8 180.44 384.94 188.69 379.04 C196.95 373.14 209.33 363.09 213.46 359.9" fill="none" stroke="#b0b0b0" stroke-width="1.7" stroke-dasharray="3 4" stroke-linejoin="round"/>
<path d="M64.88 458.93 L67.38 461.8 L64.88 464.68 L62.38 461.8Z" fill="#000"/>
<line x1="89.64" y1="448.4" x2="89.64" y2="450.32" stroke="#000" stroke-width="1.6" />
<line x1="86.64" y1="448.4" x2="92.64" y2="448.4" stroke="#000" stroke-width="1.6" />
<line x1="86.64" y1="450.32" x2="92.64" y2="450.32" stroke="#000" stroke-width="1.6" />
<path d="M89.64 446.49 L92.14 449.36 L89.64 452.24 L87.14 449.36Z" fill="#000"/>
<line x1="114.41" y1="435.97" x2="114.41" y2="438.84" stroke="#000" stroke-width="1.6" />
<line x1="111.41" y1="435.97" x2="117.41" y2="435.97" stroke="#000" stroke-width="1.6" />
<line x1="111.41" y1="438.84" x2="117.41" y2="438.84" stroke="#000" stroke-width="1.6" />
<path d="M114.41 434.53 L116.91 437.4 L114.41 440.28 L111.91 437.4Z" fill="#000"/>
<line x1="139.17" y1="423.53" x2="139.17" y2="426.4" stroke="#000" stroke-width="1.6" />
<line x1="136.17" y1="423.53" x2="142.17" y2="423.53" stroke="#000" stroke-width="1.6" />
<line x1="136.17" y1="426.4" x2="142.17" y2="426.4" stroke="#000" stroke-width="1.6" />
<path d="M139.17 422.09 L141.67 424.96 L139.17 427.84 L136.67 424.96Z" fill="#000"/>
<line x1="163.93" y1="410.61" x2="163.93" y2="413.48" stroke="#000" stroke-width="1.6" />
<line x1="160.93" y1="410.61" x2="166.93" y2="410.61" stroke="#000" stroke-width="1.6" />
<line x1="160.93" y1="413.48" x2="166.93" y2="413.48" stroke="#000" stroke-width="1.6" />
<path d="M163.93 409.17 L166.43 412.05 L163.93 414.92 L161.43 412.05Z" fill="#000"/>
<line x1="188.69" y1="399.13" x2="188.69" y2="402" stroke="#000" stroke-width="1.6" />
<line x1="185.69" y1="399.13" x2="191.69" y2="399.13" stroke="#000" stroke-width="1.6" />
<line x1="185.69" y1="402" x2="191.69" y2="402" stroke="#000" stroke-width="1.6" />
<path d="M188.69 397.69 L191.19 400.56 L188.69 403.44 L186.19 400.56Z" fill="#000"/>
<line x1="213.46" y1="385.26" x2="213.46" y2="389.08" stroke="#000" stroke-width="1.6" />
<line x1="210.46" y1="385.26" x2="216.46" y2="385.26" stroke="#000" stroke-width="1.6" />
<line x1="210.46" y1="389.08" x2="216.46" y2="389.08" stroke="#000" stroke-width="1.6" />
<path d="M213.46 384.29 L215.96 387.17 L213.46 390.04 L210.96 387.17Z" fill="#000"/>
<line x1="238.22" y1="373.77" x2="238.22" y2="377.6" stroke="#000" stroke-width="1.6" />
<line x1="235.22" y1="373.77" x2="241.22" y2="373.77" stroke="#000" stroke-width="1.6" />
<line x1="235.22" y1="377.6" x2="241.22" y2="377.6" stroke="#000" stroke-width="1.6" />
<path d="M238.22 372.81 L240.72 375.69 L238.22 378.56 L235.72 375.69Z" fill="#000"/>
<path d="M64.88 458.93 L67.38 461.8 L64.88 464.68 L62.38 461.8Z" fill="#000"/>
<line x1="89.64" y1="448.4" x2="89.64" y2="450.32" stroke="#000" stroke-width="1.6" />
<line x1="86.64" y1="448.4" x2="92.64" y2="448.4" stroke="#000" stroke-width="1.6" />
<line x1="86.64" y1="450.32" x2="92.64" y2="450.32" stroke="#000" stroke-width="1.6" />
<path d="M89.64 446.49 L92.14 449.36 L89.64 452.24 L87.14 449.36Z" fill="#000"/>
<line x1="114.41" y1="435.01" x2="114.41" y2="438.84" stroke="#000" stroke-width="1.6" />
<line x1="111.41" y1="435.01" x2="117.41" y2="435.01" stroke="#000" stroke-width="1.6" />
<line x1="111.41" y1="438.84" x2="117.41" y2="438.84" stroke="#000" stroke-width="1.6" />
<path d="M114.41 434.05 L116.91 436.92 L114.41 439.8 L111.91 436.92Z" fill="#000"/>
<line x1="139.17" y1="426.88" x2="139.17" y2="432.62" stroke="#000" stroke-width="1.6" />
<line x1="136.17" y1="426.88" x2="142.17" y2="426.88" stroke="#000" stroke-width="1.6" />
<line x1="136.17" y1="432.62" x2="142.17" y2="432.62" stroke="#000" stroke-width="1.6" />
<path d="M139.17 426.87 L141.67 429.75 L139.17 432.62 L136.67 429.75Z" fill="#000"/>
<line x1="163.93" y1="420.18" x2="163.93" y2="431.66" stroke="#000" stroke-width="1.6" />
<line x1="160.93" y1="420.18" x2="166.93" y2="420.18" stroke="#000" stroke-width="1.6" />
<line x1="160.93" y1="431.66" x2="166.93" y2="431.66" stroke="#000" stroke-width="1.6" />
<path d="M163.93 423.05 L166.43 425.92 L163.93 428.8 L161.43 425.92Z" fill="#000"/>
<line x1="188.69" y1="413.96" x2="188.69" y2="429.27" stroke="#000" stroke-width="1.6" />
<line x1="185.69" y1="413.96" x2="191.69" y2="413.96" stroke="#000" stroke-width="1.6" />
<line x1="185.69" y1="429.27" x2="191.69" y2="429.27" stroke="#000" stroke-width="1.6" />
<path d="M188.69 418.74 L191.19 421.61 L188.69 424.49 L186.19 421.61Z" fill="#000"/>
<line x1="213.46" y1="409.65" x2="213.46" y2="429.75" stroke="#000" stroke-width="1.6" />
<line x1="210.46" y1="409.65" x2="216.46" y2="409.65" stroke="#000" stroke-width="1.6" />
<line x1="210.46" y1="429.75" x2="216.46" y2="429.75" stroke="#000" stroke-width="1.6" />
<path d="M213.46 416.83 L215.96 419.7 L213.46 422.58 L210.96 419.7Z" fill="#000"/>
<line x1="238.22" y1="401.52" x2="238.22" y2="432.14" stroke="#000" stroke-width="1.6" />
<line x1="235.22" y1="401.52" x2="241.22" y2="401.52" stroke="#000" stroke-width="1.6" />
<line x1="235.22" y1="432.14" x2="241.22" y2="432.14" stroke="#000" stroke-width="1.6" />
<path d="M238.22 413.96 L240.72 416.83 L238.22 419.71 L235.72 416.83Z" fill="#000"/>
<rect x="62.48" y="459.4" width="4.8" height="4.8" fill="#979797"/>
<line x1="89.64" y1="443.62" x2="89.64" y2="445.53" stroke="#000" stroke-width="1.6" />
<line x1="86.64" y1="443.62" x2="92.64" y2="443.62" stroke="#000" stroke-width="1.6" />
<line x1="86.64" y1="445.53" x2="92.64" y2="445.53" stroke="#000" stroke-width="1.6" />
<rect x="87.24" y="442.18" width="4.8" height="4.8" fill="#979797"/>
<line x1="114.41" y1="425.44" x2="114.41" y2="428.31" stroke="#000" stroke-width="1.6" />
<line x1="111.41" y1="425.44" x2="117.41" y2="425.44" stroke="#000" stroke-width="1.6" />
<line x1="111.41" y1="428.31" x2="117.41" y2="428.31" stroke="#000" stroke-width="1.6" />
<rect x="112.01" y="424.48" width="4.8" height="4.8" fill="#979797"/>
<line x1="139.17" y1="408.7" x2="139.17" y2="411.57" stroke="#000" stroke-width="1.6" />
<line x1="136.17" y1="408.7" x2="142.17" y2="408.7" stroke="#000" stroke-width="1.6" />
<line x1="136.17" y1="411.57" x2="142.17" y2="411.57" stroke="#000" stroke-width="1.6" />
<rect x="136.77" y="407.73" width="4.8" height="4.8" fill="#979797"/>
<line x1="163.93" y1="391" x2="163.93" y2="394.82" stroke="#000" stroke-width="1.6" />
<line x1="160.93" y1="391" x2="166.93" y2="391" stroke="#000" stroke-width="1.6" />
<line x1="160.93" y1="394.82" x2="166.93" y2="394.82" stroke="#000" stroke-width="1.6" />
<rect x="161.53" y="390.51" width="4.8" height="4.8" fill="#979797"/>
<line x1="188.69" y1="374.25" x2="188.69" y2="379.04" stroke="#000" stroke-width="1.6" />
<line x1="185.69" y1="374.25" x2="191.69" y2="374.25" stroke="#000" stroke-width="1.6" />
<line x1="185.69" y1="379.04" x2="191.69" y2="379.04" stroke="#000" stroke-width="1.6" />
<rect x="186.29" y="374.24" width="4.8" height="4.8" fill="#979797"/>
<line x1="213.46" y1="356.55" x2="213.46" y2="360.38" stroke="#000" stroke-width="1.6" />
<line x1="210.46" y1="356.55" x2="216.46" y2="356.55" stroke="#000" stroke-width="1.6" />
<line x1="210.46" y1="360.38" x2="216.46" y2="360.38" stroke="#000" stroke-width="1.6" />
<rect x="211.06" y="356.07" width="4.8" height="4.8" fill="#979797"/>
<rect x="62.48" y="459.4" width="4.8" height="4.8" fill="#a8a8a8"/>
<line x1="89.64" y1="444.58" x2="89.64" y2="446.49" stroke="#000" stroke-width="1.6" />
<line x1="86.64" y1="444.58" x2="92.64" y2="444.58" stroke="#000" stroke-width="1.6" />
<line x1="86.64" y1="446.49" x2="92.64" y2="446.49" stroke="#000" stroke-width="1.6" />
<rect x="87.24" y="443.13" width="4.8" height="4.8" fill="#a8a8a8"/>
<line x1="114.41" y1="427.36" x2="114.41" y2="430.23" stroke="#000" stroke-width="1.6" />
<line x1="111.41" y1="427.36" x2="117.41" y2="427.36" stroke="#000" stroke-width="1.6" />
<line x1="111.41" y1="430.23" x2="117.41" y2="430.23" stroke="#000" stroke-width="1.6" />
<rect x="112.01" y="426.39" width="4.8" height="4.8" fill="#a8a8a8"/>
<line x1="139.17" y1="410.61" x2="139.17" y2="413.48" stroke="#000" stroke-width="1.6" />
<line x1="136.17" y1="410.61" x2="142.17" y2="410.61" stroke="#000" stroke-width="1.6" />
<line x1="136.17" y1="413.48" x2="142.17" y2="413.48" stroke="#000" stroke-width="1.6" />
<rect x="136.77" y="409.65" width="4.8" height="4.8" fill="#a8a8a8"/>
<line x1="163.93" y1="393.39" x2="163.93" y2="397.22" stroke="#000" stroke-width="1.6" />
<line x1="160.93" y1="393.39" x2="166.93" y2="393.39" stroke="#000" stroke-width="1.6" />
<line x1="160.93" y1="397.22" x2="166.93" y2="397.22" stroke="#000" stroke-width="1.6" />
<rect x="161.53" y="392.9" width="4.8" height="4.8" fill="#a8a8a8"/>
<line x1="188.69" y1="376.64" x2="188.69" y2="381.43" stroke="#000" stroke-width="1.6" />
<line x1="185.69" y1="376.64" x2="191.69" y2="376.64" stroke="#000" stroke-width="1.6" />
<line x1="185.69" y1="381.43" x2="191.69" y2="381.43" stroke="#000" stroke-width="1.6" />
<rect x="186.29" y="376.64" width="4.8" height="4.8" fill="#a8a8a8"/>
<line x1="213.46" y1="357.99" x2="213.46" y2="361.81" stroke="#000" stroke-width="1.6" />
<line x1="210.46" y1="357.99" x2="216.46" y2="357.99" stroke="#000" stroke-width="1.6" />
<line x1="210.46" y1="361.81" x2="216.46" y2="361.81" stroke="#000" stroke-width="1.6" />
<rect x="211.06" y="357.5" width="4.8" height="4.8" fill="#a8a8a8"/>
<line x1="52.5" y1="341.2" x2="52.5" y2="462.8" stroke="#000" stroke-width="2" />
<line x1="48" y1="461.8" x2="250.6" y2="461.8" stroke="#000" stroke-width="2" />
<line x1="48" y1="461.8" x2="52.5" y2="461.8" stroke="#000" stroke-width="1.6" />
<text x="44" y="465.8" font-size="11" text-anchor="end" font-weight="normal" >0</text>
<line x1="48" y1="437.88" x2="52.5" y2="437.88" stroke="#000" stroke-width="1.6" />
<text x="44" y="441.88" font-size="11" text-anchor="end" font-weight="normal" >5</text>
<line x1="48" y1="413.96" x2="52.5" y2="413.96" stroke="#000" stroke-width="1.6" />
<text x="44" y="417.96" font-size="11" text-anchor="end" font-weight="normal" >10</text>
<line x1="48" y1="390.04" x2="52.5" y2="390.04" stroke="#000" stroke-width="1.6" />
<text x="44" y="394.04" font-size="11" text-anchor="end" font-weight="normal" >15</text>
<line x1="48" y1="366.12" x2="52.5" y2="366.12" stroke="#000" stroke-width="1.6" />
<text x="44" y="370.12" font-size="11" text-anchor="end" font-weight="normal" >20</text>
<line x1="48" y1="342.2" x2="52.5" y2="342.2" stroke="#000" stroke-width="1.6" />
<text x="44" y="346.2" font-size="11" text-anchor="end" font-weight="normal" >25</text>
<text x="64.88" y="482.8" font-size="11" text-anchor="middle" font-weight="normal" >0</text>
<text x="89.64" y="482.8" font-size="11" text-anchor="middle" font-weight="normal" >4</text>
<text x="114.41" y="482.8" font-size="11" text-anchor="middle" font-weight="normal" >8</text>
<text x="139.17" y="482.8" font-size="11" text-anchor="middle" font-weight="normal" >12</text>
<text x="163.93" y="482.8" font-size="11" text-anchor="middle" font-weight="normal" >16</text>
<text x="188.69" y="482.8" font-size="11" text-anchor="middle" font-weight="normal" >20</text>
<text x="213.46" y="482.8" font-size="11" text-anchor="middle" font-weight="normal" >24</text>
<text x="238.22" y="482.8" font-size="11" text-anchor="middle" font-weight="normal" >28</text>
<text x="157.1" y="496" font-size="11" text-anchor="middle" font-weight="normal" >Days Cultured</text>
<text x="0" y="0" font-size="11" text-anchor="middle" transform="translate(19.6,403) rotate(-90)">Number of Doublings</text>
<text x="60" y="349.5" font-size="11" text-anchor="start" font-weight="normal" >Sav-BL clones</text>
<line x1="60" y1="357.8" x2="85.6" y2="357.8" stroke="#000" stroke-width="3" />
<path d="M72.8 354.93 L75.3 357.8 L72.8 360.68 L70.3 357.8Z" fill="#000"/>
<text x="85.9" y="360.5" font-size="7.65" text-anchor="start" font-weight="normal" >S1-1 dnEBNA1 off</text>
<line x1="60" y1="368.4" x2="85.6" y2="368.4" stroke="#000" stroke-width="1.7" stroke-dasharray="3 4" stroke-dashoffset="-1"/>
<path d="M72.8 365.52 L75.3 368.4 L72.8 371.27 L70.3 368.4Z" fill="#000"/>
<text x="85.9" y="371.1" font-size="7.65" text-anchor="start" font-weight="normal" >S1-1 dnEBNA1 on</text>
<line x1="60" y1="378.8" x2="85.6" y2="378.8" stroke="#979797" stroke-width="3" />
<rect x="70.4" y="376.4" width="4.8" height="4.8" fill="#979797"/>
<text x="85.9" y="381.5" font-size="7.65" text-anchor="start" font-weight="normal" >S14-2 dnEBNA1 off</text>
<line x1="60" y1="389.5" x2="85.6" y2="389.5" stroke="#b0b0b0" stroke-width="1.7" stroke-dasharray="3 4" stroke-dashoffset="-1"/>
<rect x="70.4" y="387.1" width="4.8" height="4.8" fill="#a8a8a8"/>
<text x="85.9" y="392.2" font-size="7.65" text-anchor="start" font-weight="normal" >S14-2 dnEBNA1 on</text>
<line x1="322" y1="461.2" x2="322" y2="466.2" stroke="#8a8a8a" stroke-width="0.9" />
<line x1="346.49" y1="461.2" x2="346.49" y2="466.2" stroke="#8a8a8a" stroke-width="0.9" />
<line x1="370.98" y1="461.2" x2="370.98" y2="466.2" stroke="#8a8a8a" stroke-width="0.9" />
<line x1="395.46" y1="461.2" x2="395.46" y2="466.2" stroke="#8a8a8a" stroke-width="0.9" />
<line x1="419.95" y1="461.2" x2="419.95" y2="466.2" stroke="#8a8a8a" stroke-width="0.9" />
<line x1="444.44" y1="461.2" x2="444.44" y2="466.2" stroke="#8a8a8a" stroke-width="0.9" />
<line x1="468.92" y1="461.2" x2="468.92" y2="466.2" stroke="#8a8a8a" stroke-width="0.9" />
<line x1="493.41" y1="461.2" x2="493.41" y2="466.2" stroke="#8a8a8a" stroke-width="0.9" />
<line x1="517.9" y1="461.2" x2="517.9" y2="466.2" stroke="#8a8a8a" stroke-width="0.9" />
<path d="M334.24 461.2 C338.32 458.49 350.57 449.96 358.73 444.94 C366.89 439.91 375.06 435.94 383.22 431.05 C391.38 426.16 399.54 420.67 407.71 415.58 C415.87 410.49 424.03 405.46 432.19 400.5 C440.36 395.55 448.52 390.85 456.68 385.83 C464.84 380.8 473.01 375.31 481.17 370.36 C489.33 365.4 501.57 358.45 505.66 356.07" fill="none" stroke="#000" stroke-width="3" stroke-linejoin="round"/>
<path d="M334.24 461.2 C338.32 458.89 350.57 452.27 358.73 447.32 C366.89 442.36 375.06 435.75 383.22 431.45 C391.38 427.15 399.54 424.97 407.71 421.53 C415.87 418.09 424.03 413.46 432.19 410.82 C440.36 408.17 448.52 408.51 456.68 405.66 C464.84 402.82 473.01 397.27 481.17 393.76 C489.33 390.26 501.57 386.16 505.66 384.64" fill="none" stroke="#000" stroke-width="1.7" stroke-dasharray="3 4" stroke-linejoin="round"/>
<path d="M334.24 461.2 C338.32 459.08 350.57 452.47 358.73 448.51 C366.89 444.54 375.06 440.9 383.22 437.4 C391.38 433.89 399.54 431.25 407.71 427.48 C415.87 423.71 424.03 419.08 432.19 414.79 C440.36 410.49 448.52 406.06 456.68 401.69 C464.84 397.33 473.01 392.7 481.17 388.6 C489.33 384.5 501.57 379.02 505.66 377.1" fill="none" stroke="#979797" stroke-width="3" stroke-linejoin="round"/>
<path d="M334.24 461.2 C338.32 459.08 350.57 452.47 358.73 448.51 C366.89 444.54 375.06 440.57 383.22 437.4 C391.38 434.22 399.54 432.37 407.71 429.46 C415.87 426.55 424.03 423.05 432.19 419.94 C440.36 416.84 448.52 413.93 456.68 410.82 C464.84 407.71 473.01 404.74 481.17 401.3 C489.33 397.86 501.57 392.04 505.66 390.19" fill="none" stroke="#b0b0b0" stroke-width="1.7" stroke-dasharray="3 4" stroke-linejoin="round"/>
<path d="M334.24 458.32 L336.74 461.2 L334.24 464.07 L331.74 461.2Z" fill="#000"/>
<line x1="358.73" y1="444.14" x2="358.73" y2="445.73" stroke="#000" stroke-width="1.6" />
<line x1="355.73" y1="444.14" x2="361.73" y2="444.14" stroke="#000" stroke-width="1.6" />
<line x1="355.73" y1="445.73" x2="361.73" y2="445.73" stroke="#000" stroke-width="1.6" />
<path d="M358.73 442.06 L361.23 444.94 L358.73 447.81 L356.23 444.94Z" fill="#000"/>
<line x1="383.22" y1="429.86" x2="383.22" y2="432.24" stroke="#000" stroke-width="1.6" />
<line x1="380.22" y1="429.86" x2="386.22" y2="429.86" stroke="#000" stroke-width="1.6" />
<line x1="380.22" y1="432.24" x2="386.22" y2="432.24" stroke="#000" stroke-width="1.6" />
<path d="M383.22 428.18 L385.72 431.05 L383.22 433.93 L380.72 431.05Z" fill="#000"/>
<line x1="407.71" y1="414.39" x2="407.71" y2="416.77" stroke="#000" stroke-width="1.6" />
<line x1="404.71" y1="414.39" x2="410.71" y2="414.39" stroke="#000" stroke-width="1.6" />
<line x1="404.71" y1="416.77" x2="410.71" y2="416.77" stroke="#000" stroke-width="1.6" />
<path d="M407.71 412.7 L410.21 415.58 L407.71 418.45 L405.21 415.58Z" fill="#000"/>
<line x1="432.19" y1="399.31" x2="432.19" y2="401.69" stroke="#000" stroke-width="1.6" />
<line x1="429.19" y1="399.31" x2="435.19" y2="399.31" stroke="#000" stroke-width="1.6" />
<line x1="429.19" y1="401.69" x2="435.19" y2="401.69" stroke="#000" stroke-width="1.6" />
<path d="M432.19 397.63 L434.69 400.5 L432.19 403.38 L429.69 400.5Z" fill="#000"/>
<line x1="456.68" y1="384.64" x2="456.68" y2="387.02" stroke="#000" stroke-width="1.6" />
<line x1="453.68" y1="384.64" x2="459.68" y2="384.64" stroke="#000" stroke-width="1.6" />
<line x1="453.68" y1="387.02" x2="459.68" y2="387.02" stroke="#000" stroke-width="1.6" />
<path d="M456.68 382.95 L459.18 385.83 L456.68 388.7 L454.18 385.83Z" fill="#000"/>
<line x1="481.17" y1="368.77" x2="481.17" y2="371.94" stroke="#000" stroke-width="1.6" />
<line x1="478.17" y1="368.77" x2="484.17" y2="368.77" stroke="#000" stroke-width="1.6" />
<line x1="478.17" y1="371.94" x2="484.17" y2="371.94" stroke="#000" stroke-width="1.6" />
<path d="M481.17 367.48 L483.67 370.36 L481.17 373.23 L478.67 370.36Z" fill="#000"/>
<line x1="505.66" y1="352.9" x2="505.66" y2="359.25" stroke="#000" stroke-width="1.6" />
<line x1="502.66" y1="352.9" x2="508.66" y2="352.9" stroke="#000" stroke-width="1.6" />
<line x1="502.66" y1="359.25" x2="508.66" y2="359.25" stroke="#000" stroke-width="1.6" />
<path d="M505.66 353.2 L508.16 356.07 L505.66 358.95 L503.16 356.07Z" fill="#000"/>
<path d="M334.24 458.32 L336.74 461.2 L334.24 464.07 L331.74 461.2Z" fill="#000"/>
<line x1="358.73" y1="446.13" x2="358.73" y2="448.51" stroke="#000" stroke-width="1.6" />
<line x1="355.73" y1="446.13" x2="361.73" y2="446.13" stroke="#000" stroke-width="1.6" />
<line x1="355.73" y1="448.51" x2="361.73" y2="448.51" stroke="#000" stroke-width="1.6" />
<path d="M358.73 444.44 L361.23 447.32 L358.73 450.19 L356.23 447.32Z" fill="#000"/>
<line x1="383.22" y1="429.46" x2="383.22" y2="433.43" stroke="#000" stroke-width="1.6" />
<line x1="380.22" y1="429.46" x2="386.22" y2="429.46" stroke="#000" stroke-width="1.6" />
<line x1="380.22" y1="433.43" x2="386.22" y2="433.43" stroke="#000" stroke-width="1.6" />
<path d="M383.22 428.57 L385.72 431.45 L383.22 434.32 L380.72 431.45Z" fill="#000"/>
<line x1="407.71" y1="417.56" x2="407.71" y2="425.5" stroke="#000" stroke-width="1.6" />
<line x1="404.71" y1="417.56" x2="410.71" y2="417.56" stroke="#000" stroke-width="1.6" />
<line x1="404.71" y1="425.5" x2="410.71" y2="425.5" stroke="#000" stroke-width="1.6" />
<path d="M407.71 418.65 L410.21 421.53 L407.71 424.4 L405.21 421.53Z" fill="#000"/>
<line x1="432.19" y1="406.85" x2="432.19" y2="414.79" stroke="#000" stroke-width="1.6" />
<line x1="429.19" y1="406.85" x2="435.19" y2="406.85" stroke="#000" stroke-width="1.6" />
<line x1="429.19" y1="414.79" x2="435.19" y2="414.79" stroke="#000" stroke-width="1.6" />
<path d="M432.19 407.94 L434.69 410.82 L432.19 413.69 L429.69 410.82Z" fill="#000"/>
<line x1="456.68" y1="399.71" x2="456.68" y2="411.61" stroke="#000" stroke-width="1.6" />
<line x1="453.68" y1="399.71" x2="459.68" y2="399.71" stroke="#000" stroke-width="1.6" />
<line x1="453.68" y1="411.61" x2="459.68" y2="411.61" stroke="#000" stroke-width="1.6" />
<path d="M456.68 402.79 L459.18 405.66 L456.68 408.54 L454.18 405.66Z" fill="#000"/>
<line x1="481.17" y1="387.81" x2="481.17" y2="399.71" stroke="#000" stroke-width="1.6" />
<line x1="478.17" y1="387.81" x2="484.17" y2="387.81" stroke="#000" stroke-width="1.6" />
<line x1="478.17" y1="399.71" x2="484.17" y2="399.71" stroke="#000" stroke-width="1.6" />
<path d="M481.17 390.89 L483.67 393.76 L481.17 396.64 L478.67 393.76Z" fill="#000"/>
<line x1="505.66" y1="377.5" x2="505.66" y2="391.78" stroke="#000" stroke-width="1.6" />
<line x1="502.66" y1="377.5" x2="508.66" y2="377.5" stroke="#000" stroke-width="1.6" />
<line x1="502.66" y1="391.78" x2="508.66" y2="391.78" stroke="#000" stroke-width="1.6" />
<path d="M505.66 381.76 L508.16 384.64 L505.66 387.51 L503.16 384.64Z" fill="#000"/>
<rect x="331.84" y="458.8" width="4.8" height="4.8" fill="#979797"/>
<line x1="358.73" y1="447.32" x2="358.73" y2="449.7" stroke="#000" stroke-width="1.6" />
<line x1="355.73" y1="447.32" x2="361.73" y2="447.32" stroke="#000" stroke-width="1.6" />
<line x1="355.73" y1="449.7" x2="361.73" y2="449.7" stroke="#000" stroke-width="1.6" />
<rect x="356.33" y="446.11" width="4.8" height="4.8" fill="#979797"/>
<line x1="383.22" y1="435.81" x2="383.22" y2="438.98" stroke="#000" stroke-width="1.6" />
<line x1="380.22" y1="435.81" x2="386.22" y2="435.81" stroke="#000" stroke-width="1.6" />
<line x1="380.22" y1="438.98" x2="386.22" y2="438.98" stroke="#000" stroke-width="1.6" />
<rect x="380.82" y="435" width="4.8" height="4.8" fill="#979797"/>
<line x1="407.71" y1="424.31" x2="407.71" y2="430.65" stroke="#000" stroke-width="1.6" />
<line x1="404.71" y1="424.31" x2="410.71" y2="424.31" stroke="#000" stroke-width="1.6" />
<line x1="404.71" y1="430.65" x2="410.71" y2="430.65" stroke="#000" stroke-width="1.6" />
<rect x="405.31" y="425.08" width="4.8" height="4.8" fill="#979797"/>
<line x1="432.19" y1="410.82" x2="432.19" y2="418.75" stroke="#000" stroke-width="1.6" />
<line x1="429.19" y1="410.82" x2="435.19" y2="410.82" stroke="#000" stroke-width="1.6" />
<line x1="429.19" y1="418.75" x2="435.19" y2="418.75" stroke="#000" stroke-width="1.6" />
<rect x="429.79" y="412.39" width="4.8" height="4.8" fill="#979797"/>
<line x1="456.68" y1="397.73" x2="456.68" y2="405.66" stroke="#000" stroke-width="1.6" />
<line x1="453.68" y1="397.73" x2="459.68" y2="397.73" stroke="#000" stroke-width="1.6" />
<line x1="453.68" y1="405.66" x2="459.68" y2="405.66" stroke="#000" stroke-width="1.6" />
<rect x="454.28" y="399.3" width="4.8" height="4.8" fill="#979797"/>
<line x1="481.17" y1="385.43" x2="481.17" y2="391.78" stroke="#000" stroke-width="1.6" />
<line x1="478.17" y1="385.43" x2="484.17" y2="385.43" stroke="#000" stroke-width="1.6" />
<line x1="478.17" y1="391.78" x2="484.17" y2="391.78" stroke="#000" stroke-width="1.6" />
<rect x="478.77" y="386.2" width="4.8" height="4.8" fill="#979797"/>
<line x1="505.66" y1="373.93" x2="505.66" y2="380.27" stroke="#000" stroke-width="1.6" />
<line x1="502.66" y1="373.93" x2="508.66" y2="373.93" stroke="#000" stroke-width="1.6" />
<line x1="502.66" y1="380.27" x2="508.66" y2="380.27" stroke="#000" stroke-width="1.6" />
<rect x="503.26" y="374.7" width="4.8" height="4.8" fill="#979797"/>
<rect x="331.84" y="458.8" width="4.8" height="4.8" fill="#a8a8a8"/>
<line x1="358.73" y1="447.32" x2="358.73" y2="449.7" stroke="#000" stroke-width="1.6" />
<line x1="355.73" y1="447.32" x2="361.73" y2="447.32" stroke="#000" stroke-width="1.6" />
<line x1="355.73" y1="449.7" x2="361.73" y2="449.7" stroke="#000" stroke-width="1.6" />
<rect x="356.33" y="446.11" width="4.8" height="4.8" fill="#a8a8a8"/>
<line x1="383.22" y1="435.81" x2="383.22" y2="438.98" stroke="#000" stroke-width="1.6" />
<line x1="380.22" y1="435.81" x2="386.22" y2="435.81" stroke="#000" stroke-width="1.6" />
<line x1="380.22" y1="438.98" x2="386.22" y2="438.98" stroke="#000" stroke-width="1.6" />
<rect x="380.82" y="435" width="4.8" height="4.8" fill="#a8a8a8"/>
<line x1="407.71" y1="423.91" x2="407.71" y2="435.02" stroke="#000" stroke-width="1.6" />
<line x1="404.71" y1="423.91" x2="410.71" y2="423.91" stroke="#000" stroke-width="1.6" />
<line x1="404.71" y1="435.02" x2="410.71" y2="435.02" stroke="#000" stroke-width="1.6" />
<rect x="405.31" y="427.06" width="4.8" height="4.8" fill="#a8a8a8"/>
<line x1="432.19" y1="413.6" x2="432.19" y2="426.29" stroke="#000" stroke-width="1.6" />
<line x1="429.19" y1="413.6" x2="435.19" y2="413.6" stroke="#000" stroke-width="1.6" />
<line x1="429.19" y1="426.29" x2="435.19" y2="426.29" stroke="#000" stroke-width="1.6" />
<rect x="429.79" y="417.54" width="4.8" height="4.8" fill="#a8a8a8"/>
<line x1="456.68" y1="405.27" x2="456.68" y2="416.37" stroke="#000" stroke-width="1.6" />
<line x1="453.68" y1="405.27" x2="459.68" y2="405.27" stroke="#000" stroke-width="1.6" />
<line x1="453.68" y1="416.37" x2="459.68" y2="416.37" stroke="#000" stroke-width="1.6" />
<rect x="454.28" y="408.42" width="4.8" height="4.8" fill="#a8a8a8"/>
<line x1="481.17" y1="395.74" x2="481.17" y2="406.85" stroke="#000" stroke-width="1.6" />
<line x1="478.17" y1="395.74" x2="484.17" y2="395.74" stroke="#000" stroke-width="1.6" />
<line x1="478.17" y1="406.85" x2="484.17" y2="406.85" stroke="#000" stroke-width="1.6" />
<rect x="478.77" y="398.9" width="4.8" height="4.8" fill="#a8a8a8"/>
<line x1="505.66" y1="384.64" x2="505.66" y2="395.74" stroke="#000" stroke-width="1.6" />
<line x1="502.66" y1="384.64" x2="508.66" y2="384.64" stroke="#000" stroke-width="1.6" />
<line x1="502.66" y1="395.74" x2="508.66" y2="395.74" stroke="#000" stroke-width="1.6" />
<rect x="503.26" y="387.79" width="4.8" height="4.8" fill="#a8a8a8"/>
<line x1="322" y1="341.19" x2="322" y2="462.2" stroke="#000" stroke-width="2" />
<line x1="317.5" y1="461.2" x2="517.9" y2="461.2" stroke="#000" stroke-width="2" />
<line x1="317.5" y1="461.2" x2="322" y2="461.2" stroke="#000" stroke-width="1.6" />
<text x="313.5" y="465.2" font-size="11" text-anchor="end" font-weight="normal" >0</text>
<line x1="317.5" y1="441.37" x2="322" y2="441.37" stroke="#000" stroke-width="1.6" />
<text x="313.5" y="445.37" font-size="11" text-anchor="end" font-weight="normal" >5</text>
<line x1="317.5" y1="421.53" x2="322" y2="421.53" stroke="#000" stroke-width="1.6" />
<text x="313.5" y="425.53" font-size="11" text-anchor="end" font-weight="normal" >10</text>
<line x1="317.5" y1="401.69" x2="322" y2="401.69" stroke="#000" stroke-width="1.6" />
<text x="313.5" y="405.69" font-size="11" text-anchor="end" font-weight="normal" >15</text>
<line x1="317.5" y1="381.86" x2="322" y2="381.86" stroke="#000" stroke-width="1.6" />
<text x="313.5" y="385.86" font-size="11" text-anchor="end" font-weight="normal" >20</text>
<line x1="317.5" y1="362.02" x2="322" y2="362.02" stroke="#000" stroke-width="1.6" />
<text x="313.5" y="366.02" font-size="11" text-anchor="end" font-weight="normal" >25</text>
<line x1="317.5" y1="342.19" x2="322" y2="342.19" stroke="#000" stroke-width="1.6" />
<text x="313.5" y="346.19" font-size="11" text-anchor="end" font-weight="normal" >30</text>
<text x="334.24" y="482.2" font-size="11" text-anchor="middle" font-weight="normal" >0</text>
<text x="358.73" y="482.2" font-size="11" text-anchor="middle" font-weight="normal" >4</text>
<text x="383.22" y="482.2" font-size="11" text-anchor="middle" font-weight="normal" >8</text>
<text x="407.71" y="482.2" font-size="11" text-anchor="middle" font-weight="normal" >12</text>
<text x="432.19" y="482.2" font-size="11" text-anchor="middle" font-weight="normal" >16</text>
<text x="456.68" y="482.2" font-size="11" text-anchor="middle" font-weight="normal" >20</text>
<text x="481.17" y="482.2" font-size="11" text-anchor="middle" font-weight="normal" >24</text>
<text x="505.66" y="482.2" font-size="11" text-anchor="middle" font-weight="normal" >28</text>
<text x="425.8" y="495.8" font-size="11" text-anchor="middle" font-weight="normal" >Days Cultured</text>
<text x="0" y="0" font-size="11" text-anchor="middle" transform="translate(288.6,404.7) rotate(-90)">Number of Doublings</text>
<text x="329" y="349.5" font-size="11" text-anchor="start" font-weight="normal" >Dante-BL clones</text>
<line x1="329" y1="357.8" x2="357" y2="357.8" stroke="#000" stroke-width="3" />
<path d="M343 354.93 L345.5 357.8 L343 360.68 L340.5 357.8Z" fill="#000"/>
<text x="357.3" y="360.5" font-size="8.05" text-anchor="start" font-weight="normal" >D7-1 dnEBNA1 off</text>
<line x1="329" y1="368.8" x2="357" y2="368.8" stroke="#000" stroke-width="1.7" stroke-dasharray="3 4" stroke-dashoffset="-1"/>
<path d="M343 365.93 L345.5 368.8 L343 371.68 L340.5 368.8Z" fill="#000"/>
<text x="357.3" y="371.5" font-size="8.05" text-anchor="start" font-weight="normal" >D7-1 dnEBNA1 on</text>
<line x1="329" y1="379" x2="357" y2="379" stroke="#979797" stroke-width="3" />
<rect x="340.6" y="376.6" width="4.8" height="4.8" fill="#979797"/>
<text x="357.3" y="381.7" font-size="8.05" text-anchor="start" font-weight="normal" >D8-1 dnEBNA1 off</text>
<line x1="329" y1="389.5" x2="357" y2="389.5" stroke="#b0b0b0" stroke-width="1.7" stroke-dasharray="3 4" stroke-dashoffset="-1"/>
<rect x="340.6" y="387.1" width="4.8" height="4.8" fill="#a8a8a8"/>
<text x="357.3" y="392.2" font-size="8.05" text-anchor="start" font-weight="normal" >D8-1 dnEBNA1 on</text>
<line x1="66.6" y1="619.5" x2="66.6" y2="624.5" stroke="#8a8a8a" stroke-width="0.9" />
<line x1="103.48" y1="619.5" x2="103.48" y2="624.5" stroke="#8a8a8a" stroke-width="0.9" />
<line x1="140.36" y1="619.5" x2="140.36" y2="624.5" stroke="#8a8a8a" stroke-width="0.9" />
<line x1="177.24" y1="619.5" x2="177.24" y2="624.5" stroke="#8a8a8a" stroke-width="0.9" />
<line x1="214.12" y1="619.5" x2="214.12" y2="624.5" stroke="#8a8a8a" stroke-width="0.9" />
<line x1="251" y1="619.5" x2="251" y2="624.5" stroke="#8a8a8a" stroke-width="0.9" />
<path d="M85.04 614.66 C91.19 614.66 109.63 614.63 121.92 614.66 C134.21 614.7 146.51 614.83 158.8 614.86 C171.09 614.9 183.39 614.86 195.68 614.86 C207.97 614.86 226.41 614.86 232.56 614.86" fill="none" stroke="#000" stroke-width="3" stroke-linejoin="round"/>
<path d="M85.04 614.46 C91.19 614.38 109.63 614.9 121.92 613.96 C134.21 613.02 146.51 611.17 158.8 608.82 C171.09 606.46 183.39 605.46 195.68 599.84 C207.97 594.23 226.41 579.26 232.56 575.15" fill="none" stroke="#000" stroke-width="1.7" stroke-dasharray="3 4" stroke-linejoin="round"/>
<path d="M85.04 616.68 C91.19 616.68 109.63 616.68 121.92 616.68 C134.21 616.68 146.51 616.68 158.8 616.68 C171.09 616.68 183.39 616.74 195.68 616.68 C207.97 616.61 226.41 616.34 232.56 616.27" fill="none" stroke="#979797" stroke-width="3" stroke-linejoin="round"/>
<path d="M85.04 616.27 C91.19 616.21 109.63 615.84 121.92 615.87 C134.21 615.9 146.51 616.38 158.8 616.48 C171.09 616.58 183.39 616.58 195.68 616.48 C207.97 616.38 226.41 615.97 232.56 615.87" fill="none" stroke="#b0b0b0" stroke-width="1.7" stroke-dasharray="3 4" stroke-linejoin="round"/>
<path d="M85.04 611.79 L87.54 614.66 L85.04 617.54 L82.54 614.66Z" fill="#000"/>
<path d="M121.92 611.79 L124.42 614.66 L121.92 617.54 L119.42 614.66Z" fill="#000"/>
<path d="M158.8 611.99 L161.3 614.86 L158.8 617.74 L156.3 614.86Z" fill="#000"/>
<path d="M195.68 611.99 L198.18 614.86 L195.68 617.74 L193.18 614.86Z" fill="#000"/>
<path d="M232.56 611.99 L235.06 614.86 L232.56 617.74 L230.06 614.86Z" fill="#000"/>
<line x1="85.04" y1="611.94" x2="85.04" y2="616.98" stroke="#000" stroke-width="1.6" />
<line x1="82.04" y1="611.94" x2="88.04" y2="611.94" stroke="#000" stroke-width="1.6" />
<line x1="82.04" y1="616.98" x2="88.04" y2="616.98" stroke="#000" stroke-width="1.6" />
<path d="M85.04 611.59 L87.54 614.46 L85.04 617.34 L82.54 614.46Z" fill="#000"/>
<line x1="121.92" y1="612.95" x2="121.92" y2="614.96" stroke="#000" stroke-width="1.6" />
<line x1="118.92" y1="612.95" x2="124.92" y2="612.95" stroke="#000" stroke-width="1.6" />
<line x1="118.92" y1="614.96" x2="124.92" y2="614.96" stroke="#000" stroke-width="1.6" />
<path d="M121.92 611.08 L124.42 613.96 L121.92 616.83 L119.42 613.96Z" fill="#000"/>
<line x1="158.8" y1="606.8" x2="158.8" y2="610.83" stroke="#000" stroke-width="1.6" />
<line x1="155.8" y1="606.8" x2="161.8" y2="606.8" stroke="#000" stroke-width="1.6" />
<line x1="155.8" y1="610.83" x2="161.8" y2="610.83" stroke="#000" stroke-width="1.6" />
<path d="M158.8 605.94 L161.3 608.82 L158.8 611.69 L156.3 608.82Z" fill="#000"/>
<line x1="195.68" y1="594.8" x2="195.68" y2="604.88" stroke="#000" stroke-width="1.6" />
<line x1="192.68" y1="594.8" x2="198.68" y2="594.8" stroke="#000" stroke-width="1.6" />
<line x1="192.68" y1="604.88" x2="198.68" y2="604.88" stroke="#000" stroke-width="1.6" />
<path d="M195.68 596.97 L198.18 599.84 L195.68 602.72 L193.18 599.84Z" fill="#000"/>
<line x1="232.56" y1="570.11" x2="232.56" y2="580.19" stroke="#000" stroke-width="1.6" />
<line x1="229.56" y1="570.11" x2="235.56" y2="570.11" stroke="#000" stroke-width="1.6" />
<line x1="229.56" y1="580.19" x2="235.56" y2="580.19" stroke="#000" stroke-width="1.6" />
<path d="M232.56 572.27 L235.06 575.15 L232.56 578.02 L230.06 575.15Z" fill="#000"/>
<rect x="82.64" y="614.28" width="4.8" height="4.8" fill="#979797"/>
<rect x="119.52" y="614.28" width="4.8" height="4.8" fill="#979797"/>
<rect x="156.4" y="614.28" width="4.8" height="4.8" fill="#979797"/>
<rect x="193.28" y="614.28" width="4.8" height="4.8" fill="#979797"/>
<rect x="230.16" y="613.87" width="4.8" height="4.8" fill="#979797"/>
<rect x="82.64" y="613.87" width="4.8" height="4.8" fill="#a8a8a8"/>
<rect x="119.52" y="613.47" width="4.8" height="4.8" fill="#a8a8a8"/>
<rect x="156.4" y="614.08" width="4.8" height="4.8" fill="#a8a8a8"/>
<rect x="193.28" y="614.08" width="4.8" height="4.8" fill="#a8a8a8"/>
<rect x="230.16" y="613.47" width="4.8" height="4.8" fill="#a8a8a8"/>
<line x1="66.6" y1="517.7" x2="66.6" y2="620.5" stroke="#000" stroke-width="2" />
<line x1="62.1" y1="619.5" x2="251" y2="619.5" stroke="#000" stroke-width="2" />
<line x1="62.1" y1="619.5" x2="66.6" y2="619.5" stroke="#000" stroke-width="1.6" />
<text x="58.1" y="623.5" font-size="11" text-anchor="end" font-weight="normal" >0%</text>
<line x1="62.1" y1="599.34" x2="66.6" y2="599.34" stroke="#000" stroke-width="1.6" />
<text x="58.1" y="603.34" font-size="11" text-anchor="end" font-weight="normal" >20%</text>
<line x1="62.1" y1="579.18" x2="66.6" y2="579.18" stroke="#000" stroke-width="1.6" />
<text x="58.1" y="583.18" font-size="11" text-anchor="end" font-weight="normal" >40%</text>
<line x1="62.1" y1="559.02" x2="66.6" y2="559.02" stroke="#000" stroke-width="1.6" />
<text x="58.1" y="563.02" font-size="11" text-anchor="end" font-weight="normal" >60%</text>
<line x1="62.1" y1="538.86" x2="66.6" y2="538.86" stroke="#000" stroke-width="1.6" />
<text x="58.1" y="542.86" font-size="11" text-anchor="end" font-weight="normal" >80%</text>
<line x1="62.1" y1="518.7" x2="66.6" y2="518.7" stroke="#000" stroke-width="1.6" />
<text x="58.1" y="522.7" font-size="11" text-anchor="end" font-weight="normal" >100%</text>
<text x="85.04" y="640.5" font-size="11" text-anchor="middle" font-weight="normal" >4</text>
<text x="121.92" y="640.5" font-size="11" text-anchor="middle" font-weight="normal" >8</text>
<text x="158.8" y="640.5" font-size="11" text-anchor="middle" font-weight="normal" >12</text>
<text x="195.68" y="640.5" font-size="11" text-anchor="middle" font-weight="normal" >16</text>
<text x="232.56" y="640.5" font-size="11" text-anchor="middle" font-weight="normal" >20</text>
<text x="162.4" y="655.7" font-size="11" text-anchor="middle" font-weight="normal" >Days Cultured</text>
<text x="0" y="0" font-size="11" text-anchor="middle" transform="translate(19.7,568.7) rotate(-90)">Percent Apoptotic Cells</text>
<text x="72.8" y="526.3" font-size="11" text-anchor="start" font-weight="normal" >Sav-BL clones</text>
<line x1="72.8" y1="534.8" x2="98.2" y2="534.8" stroke="#000" stroke-width="3" />
<path d="M85.5 531.92 L88 534.8 L85.5 537.67 L83 534.8Z" fill="#000"/>
<text x="98.5" y="537.5" font-size="7.7" text-anchor="start" font-weight="normal" >S1-1 dnEBNA1 off</text>
<line x1="72.8" y1="545.6" x2="98.2" y2="545.6" stroke="#000" stroke-width="1.7" stroke-dasharray="3 4" stroke-dashoffset="-1"/>
<path d="M85.5 542.73 L88 545.6 L85.5 548.48 L83 545.6Z" fill="#000"/>
<text x="98.5" y="548.3" font-size="7.7" text-anchor="start" font-weight="normal" >S1-1 dnEBNA1 on</text>
<line x1="72.8" y1="556" x2="98.2" y2="556" stroke="#979797" stroke-width="3" />
<rect x="83.1" y="553.6" width="4.8" height="4.8" fill="#979797"/>
<text x="98.5" y="558.7" font-size="7.7" text-anchor="start" font-weight="normal" >S14-2 dnEBNA1 off</text>
<line x1="72.8" y1="566.4" x2="98.2" y2="566.4" stroke="#b0b0b0" stroke-width="1.7" stroke-dasharray="3 4" stroke-dashoffset="-1"/>
<rect x="83.1" y="564" width="4.8" height="4.8" fill="#a8a8a8"/>
<text x="98.5" y="569.1" font-size="7.7" text-anchor="start" font-weight="normal" >S14-2 dnEBNA1 on</text>
<line x1="336" y1="619.4" x2="336" y2="624.4" stroke="#8a8a8a" stroke-width="0.9" />
<line x1="372.55" y1="619.4" x2="372.55" y2="624.4" stroke="#8a8a8a" stroke-width="0.9" />
<line x1="409.1" y1="619.4" x2="409.1" y2="624.4" stroke="#8a8a8a" stroke-width="0.9" />
<line x1="445.65" y1="619.4" x2="445.65" y2="624.4" stroke="#8a8a8a" stroke-width="0.9" />
<line x1="482.2" y1="619.4" x2="482.2" y2="624.4" stroke="#8a8a8a" stroke-width="0.9" />
<line x1="518.75" y1="619.4" x2="518.75" y2="624.4" stroke="#8a8a8a" stroke-width="0.9" />
<path d="M354.27 616.88 C360.37 616.88 378.64 616.88 390.82 616.88 C403.01 616.88 415.19 616.88 427.38 616.88 C439.56 616.88 451.74 616.88 463.92 616.88 C476.11 616.88 494.38 616.88 500.48 616.88" fill="none" stroke="#000" stroke-width="3" stroke-linejoin="round"/>
<path d="M354.27 610.34 C360.37 610.84 378.64 613.36 390.82 613.36 C403.01 613.36 415.19 610.92 427.38 610.34 C439.56 609.75 451.74 610.17 463.92 609.83 C476.11 609.5 494.38 608.57 500.48 608.32" fill="none" stroke="#000" stroke-width="1.7" stroke-dasharray="3 4" stroke-linejoin="round"/>
<path d="M354.27 614.37 C360.37 614.45 378.64 614.87 390.82 614.87 C403.01 614.87 415.19 614.45 427.38 614.37 C439.56 614.28 451.74 614.62 463.92 614.37 C476.11 614.11 494.38 613.11 500.48 612.85" fill="none" stroke="#979797" stroke-width="3" stroke-linejoin="round"/>
<path d="M354.27 611.85 C360.37 612.02 378.64 612.77 390.82 612.85 C403.01 612.94 415.19 612.4 427.38 612.35 C439.56 612.3 451.74 612.79 463.92 612.55 C476.11 612.32 494.38 611.21 500.48 610.94" fill="none" stroke="#b0b0b0" stroke-width="1.7" stroke-dasharray="3 4" stroke-linejoin="round"/>
<path d="M354.27 614.01 L356.77 616.88 L354.27 619.76 L351.77 616.88Z" fill="#000"/>
<path d="M390.82 614.01 L393.32 616.88 L390.82 619.76 L388.32 616.88Z" fill="#000"/>
<path d="M427.38 614.01 L429.88 616.88 L427.38 619.76 L424.88 616.88Z" fill="#000"/>
<path d="M463.92 614.01 L466.42 616.88 L463.92 619.76 L461.42 616.88Z" fill="#000"/>
<path d="M500.48 614.01 L502.98 616.88 L500.48 619.76 L497.98 616.88Z" fill="#000"/>
<line x1="354.27" y1="605.81" x2="354.27" y2="614.87" stroke="#000" stroke-width="1.6" />
<line x1="351.27" y1="605.81" x2="357.27" y2="605.81" stroke="#000" stroke-width="1.6" />
<line x1="351.27" y1="614.87" x2="357.27" y2="614.87" stroke="#000" stroke-width="1.6" />
<path d="M354.27 607.46 L356.77 610.34 L354.27 613.21 L351.77 610.34Z" fill="#000"/>
<line x1="390.82" y1="611.85" x2="390.82" y2="614.87" stroke="#000" stroke-width="1.6" />
<line x1="387.82" y1="611.85" x2="393.82" y2="611.85" stroke="#000" stroke-width="1.6" />
<line x1="387.82" y1="614.87" x2="393.82" y2="614.87" stroke="#000" stroke-width="1.6" />
<path d="M390.82 610.48 L393.32 613.36 L390.82 616.23 L388.32 613.36Z" fill="#000"/>
<line x1="427.38" y1="606.91" x2="427.38" y2="613.76" stroke="#000" stroke-width="1.6" />
<line x1="424.38" y1="606.91" x2="430.38" y2="606.91" stroke="#000" stroke-width="1.6" />
<line x1="424.38" y1="613.76" x2="430.38" y2="613.76" stroke="#000" stroke-width="1.6" />
<path d="M427.38 607.46 L429.88 610.34 L427.38 613.21 L424.88 610.34Z" fill="#000"/>
<line x1="463.92" y1="608.32" x2="463.92" y2="611.34" stroke="#000" stroke-width="1.6" />
<line x1="460.92" y1="608.32" x2="466.92" y2="608.32" stroke="#000" stroke-width="1.6" />
<line x1="460.92" y1="611.34" x2="466.92" y2="611.34" stroke="#000" stroke-width="1.6" />
<path d="M463.92 606.96 L466.42 609.83 L463.92 612.71 L461.42 609.83Z" fill="#000"/>
<line x1="500.48" y1="605.3" x2="500.48" y2="611.34" stroke="#000" stroke-width="1.6" />
<line x1="497.48" y1="605.3" x2="503.48" y2="605.3" stroke="#000" stroke-width="1.6" />
<line x1="497.48" y1="611.34" x2="503.48" y2="611.34" stroke="#000" stroke-width="1.6" />
<path d="M500.48 605.45 L502.98 608.32 L500.48 611.2 L497.98 608.32Z" fill="#000"/>
<rect x="351.88" y="611.97" width="4.8" height="4.8" fill="#979797"/>
<rect x="388.43" y="612.47" width="4.8" height="4.8" fill="#979797"/>
<rect x="424.98" y="611.97" width="4.8" height="4.8" fill="#979797"/>
<rect x="461.52" y="611.97" width="4.8" height="4.8" fill="#979797"/>
<rect x="498.08" y="610.45" width="4.8" height="4.8" fill="#979797"/>
<line x1="354.27" y1="610.34" x2="354.27" y2="613.36" stroke="#000" stroke-width="1.6" />
<line x1="351.27" y1="610.34" x2="357.27" y2="610.34" stroke="#000" stroke-width="1.6" />
<line x1="351.27" y1="613.36" x2="357.27" y2="613.36" stroke="#000" stroke-width="1.6" />
<rect x="351.88" y="609.45" width="4.8" height="4.8" fill="#a8a8a8"/>
<line x1="390.82" y1="611.85" x2="390.82" y2="613.86" stroke="#000" stroke-width="1.6" />
<line x1="387.82" y1="611.85" x2="393.82" y2="611.85" stroke="#000" stroke-width="1.6" />
<line x1="387.82" y1="613.86" x2="393.82" y2="613.86" stroke="#000" stroke-width="1.6" />
<rect x="388.43" y="610.45" width="4.8" height="4.8" fill="#a8a8a8"/>
<line x1="427.38" y1="610.84" x2="427.38" y2="613.86" stroke="#000" stroke-width="1.6" />
<line x1="424.38" y1="610.84" x2="430.38" y2="610.84" stroke="#000" stroke-width="1.6" />
<line x1="424.38" y1="613.86" x2="430.38" y2="613.86" stroke="#000" stroke-width="1.6" />
<rect x="424.98" y="609.95" width="4.8" height="4.8" fill="#a8a8a8"/>
<line x1="463.92" y1="611.55" x2="463.92" y2="613.56" stroke="#000" stroke-width="1.6" />
<line x1="460.92" y1="611.55" x2="466.92" y2="611.55" stroke="#000" stroke-width="1.6" />
<line x1="460.92" y1="613.56" x2="466.92" y2="613.56" stroke="#000" stroke-width="1.6" />
<rect x="461.52" y="610.15" width="4.8" height="4.8" fill="#a8a8a8"/>
<line x1="500.48" y1="609.43" x2="500.48" y2="612.45" stroke="#000" stroke-width="1.6" />
<line x1="497.48" y1="609.43" x2="503.48" y2="609.43" stroke="#000" stroke-width="1.6" />
<line x1="497.48" y1="612.45" x2="503.48" y2="612.45" stroke="#000" stroke-width="1.6" />
<rect x="498.08" y="608.54" width="4.8" height="4.8" fill="#a8a8a8"/>
<line x1="336" y1="517.7" x2="336" y2="620.4" stroke="#000" stroke-width="2" />
<line x1="331.5" y1="619.4" x2="518.75" y2="619.4" stroke="#000" stroke-width="2" />
<line x1="331.5" y1="619.4" x2="336" y2="619.4" stroke="#000" stroke-width="1.6" />
<text x="327.5" y="623.4" font-size="11" text-anchor="end" font-weight="normal" >0%</text>
<line x1="331.5" y1="599.26" x2="336" y2="599.26" stroke="#000" stroke-width="1.6" />
<text x="327.5" y="603.26" font-size="11" text-anchor="end" font-weight="normal" >20%</text>
<line x1="331.5" y1="579.12" x2="336" y2="579.12" stroke="#000" stroke-width="1.6" />
<text x="327.5" y="583.12" font-size="11" text-anchor="end" font-weight="normal" >40%</text>
<line x1="331.5" y1="558.98" x2="336" y2="558.98" stroke="#000" stroke-width="1.6" />
<text x="327.5" y="562.98" font-size="11" text-anchor="end" font-weight="normal" >60%</text>
<line x1="331.5" y1="538.84" x2="336" y2="538.84" stroke="#000" stroke-width="1.6" />
<text x="327.5" y="542.84" font-size="11" text-anchor="end" font-weight="normal" >80%</text>
<line x1="331.5" y1="518.7" x2="336" y2="518.7" stroke="#000" stroke-width="1.6" />
<text x="327.5" y="522.7" font-size="11" text-anchor="end" font-weight="normal" >100%</text>
<text x="354.27" y="640.4" font-size="11" text-anchor="middle" font-weight="normal" >4</text>
<text x="390.82" y="640.4" font-size="11" text-anchor="middle" font-weight="normal" >8</text>
<text x="427.38" y="640.4" font-size="11" text-anchor="middle" font-weight="normal" >12</text>
<text x="463.92" y="640.4" font-size="11" text-anchor="middle" font-weight="normal" >16</text>
<text x="500.48" y="640.4" font-size="11" text-anchor="middle" font-weight="normal" >20</text>
<text x="430.8" y="655.7" font-size="11" text-anchor="middle" font-weight="normal" >Days Cultured</text>
<text x="0" y="0" font-size="11" text-anchor="middle" transform="translate(288.6,570) rotate(-90)">Percent Apoptotic Cells</text>
<text x="342.8" y="525.8" font-size="11" text-anchor="start" font-weight="normal" >Dante-BL clones</text>
<line x1="342.8" y1="534.8" x2="368.8" y2="534.8" stroke="#000" stroke-width="3" />
<path d="M355.8 531.92 L358.3 534.8 L355.8 537.67 L353.3 534.8Z" fill="#000"/>
<text x="369.1" y="537.5" font-size="7.6" text-anchor="start" font-weight="normal" >D7-1 dnEBNA1 off</text>
<line x1="342.8" y1="545.2" x2="368.8" y2="545.2" stroke="#000" stroke-width="1.7" stroke-dasharray="3 4" stroke-dashoffset="-1"/>
<path d="M355.8 542.33 L358.3 545.2 L355.8 548.08 L353.3 545.2Z" fill="#000"/>
<text x="369.1" y="547.9" font-size="7.6" text-anchor="start" font-weight="normal" >D7-1 dnEBNA1 on</text>
<line x1="342.8" y1="555.8" x2="368.8" y2="555.8" stroke="#979797" stroke-width="3" />
<rect x="353.4" y="553.4" width="4.8" height="4.8" fill="#979797"/>
<text x="369.1" y="558.5" font-size="7.6" text-anchor="start" font-weight="normal" >D8-1 dnEBNA1 off</text>
<line x1="342.8" y1="566.3" x2="368.8" y2="566.3" stroke="#b0b0b0" stroke-width="1.7" stroke-dasharray="3 4" stroke-dashoffset="-1"/>
<rect x="353.4" y="563.9" width="4.8" height="4.8" fill="#a8a8a8"/>
<text x="369.1" y="569" font-size="7.6" text-anchor="start" font-weight="normal" >D8-1 dnEBNA1 on</text>
<text x="0.1" y="13.7" font-size="19.5" text-anchor="start" font-weight="bold" >A</text>
<text x="0.1" y="170.8" font-size="19.5" text-anchor="start" font-weight="bold" >B</text>
<text x="0.1" y="337.2" font-size="19.5" text-anchor="start" font-weight="bold" >C</text>
<text x="0.1" y="504.7" font-size="19.5" text-anchor="start" font-weight="bold" >D</text>
</svg>
</body></html>
